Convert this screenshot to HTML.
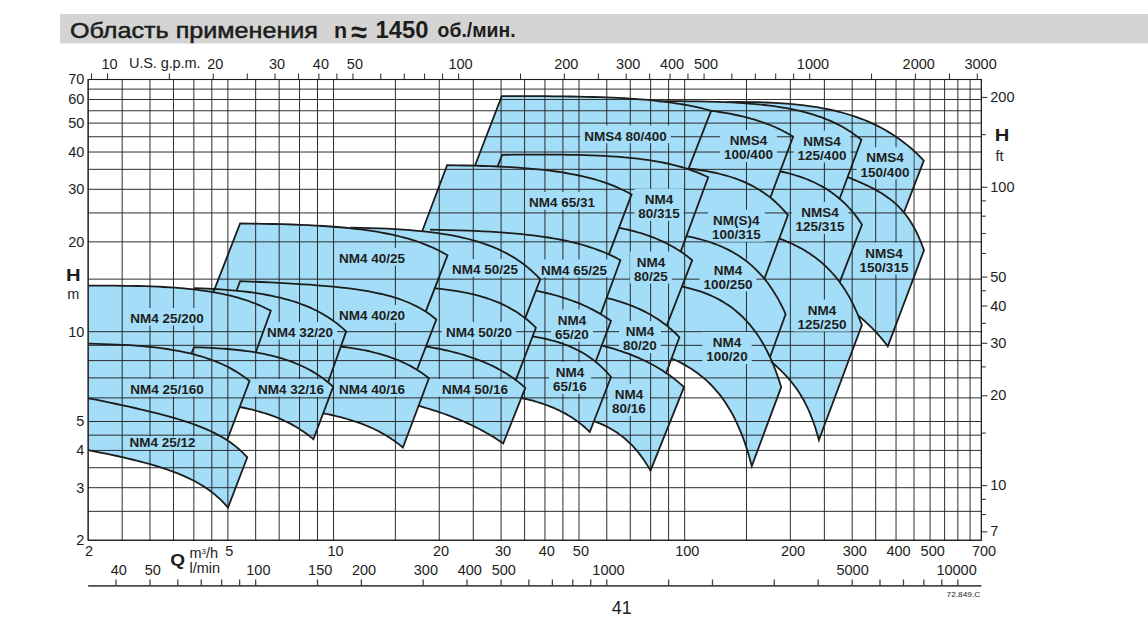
<!DOCTYPE html>
<html lang="ru"><head><meta charset="utf-8"><title>Область применения</title>
<style>
html,body{margin:0;padding:0;background:#fff}
body{width:1148px;height:640px;overflow:hidden;position:relative;font-family:"Liberation Sans",sans-serif}
svg{position:absolute;left:0;top:0;display:block}
text{font-family:"Liberation Sans",sans-serif;fill:#1d1d1b}
.ax{font-size:14.5px}
.lb{font-size:13.5px;font-weight:bold;text-anchor:middle}
.g line{stroke:#222;stroke-width:.95}
.t line{stroke:#2a2a2a;stroke-width:1}
.f path{fill:#a3ddf8;stroke:#a3ddf8;stroke-width:1}
.r path{fill:none;stroke:#1d1d1b;stroke-width:1.8;stroke-linejoin:miter;stroke-miterlimit:10}
.m rect{fill:#a3ddf8}
</style></head><body>
<svg width="1148" height="640" viewBox="0 0 1148 640">
<rect x="0" y="0" width="1148" height="640" fill="#fff"/>
<rect x="60" y="14" width="1088" height="29.5" fill="#d4d4d4"/>
<text x="70" y="37.6" textLength="248" lengthAdjust="spacingAndGlyphs" style="font-size:21.4px;stroke:#1d1d1b;stroke-width:.5">Область применения</text>
<text x="334" y="37.5" style="font-size:21.5px;font-weight:bold">n</text>
<text x="351.3" y="41.6" style="font-size:29px;font-weight:bold">≈</text>
<text x="375.4" y="37.8" textLength="53" lengthAdjust="spacingAndGlyphs" style="font-size:23.2px;font-weight:bold">1450</text>
<text x="437.6" y="37.4" textLength="78" lengthAdjust="spacingAndGlyphs" style="font-size:19.3px;font-weight:bold">об./мин.</text>
<defs><clipPath id="c"><rect x="88.15" y="79.50" width="893.22" height="460.75"/></clipPath></defs>
<g class="f" clip-path="url(#c)">
<path d="M727.0 102.1 L737.8 102.0 L747.8 102.1 L757.3 102.2 L766.2 102.5 L774.6 102.9 L782.5 103.4 L790.1 103.9 L797.3 104.6 L804.2 105.4 L810.8 106.3 L817.1 107.2 L823.1 108.3 L829.0 109.4 L834.6 110.7 L840.0 112.0 L845.2 113.5 L850.3 115.0 L855.2 116.6 L859.9 118.3 L864.5 120.0 L869.0 121.9 L873.3 123.9 L877.5 125.9 L881.6 128.0 L885.6 130.3 L889.5 132.6 L893.3 135.0 L897.0 137.5 L900.6 140.0 L904.2 142.7 L907.6 145.4 L911.0 148.3 L914.3 151.2 L917.5 154.2 L920.7 157.4 L923.8 160.6 L897.0 230.6 L893.9 227.4 L890.7 224.2 L887.5 221.2 L884.2 218.3 L880.8 215.4 L877.3 212.7 L873.8 210.0 L870.2 207.5 L866.5 205.0 L862.7 202.6 L858.8 200.3 L854.8 198.0 L850.7 195.9 L846.4 193.9 L842.1 191.9 L837.6 190.0 L833.0 188.3 L828.3 186.6 L823.4 185.0 L818.3 183.5 L813.1 182.0 L807.7 180.7 L802.1 179.4 L796.2 178.3 L790.2 177.2 L783.8 176.3 L777.3 175.4 L770.4 174.6 L763.2 173.9 L755.6 173.4 L747.6 172.9 L739.2 172.5 L730.3 172.2 L720.9 172.1 L710.8 172.0 L700.0 172.1Z"/>
<path d="M658.0 101.3 L669.4 101.2 L680.0 101.2 L689.9 101.3 L699.3 101.4 L708.0 101.6 L716.3 101.8 L724.2 102.1 L731.7 102.4 L738.8 102.8 L745.6 103.3 L752.2 103.8 L758.4 104.4 L764.4 105.0 L770.2 105.7 L775.8 106.4 L781.2 107.3 L786.3 108.1 L791.4 109.1 L796.2 110.1 L800.9 111.2 L805.5 112.4 L809.9 113.6 L814.2 114.9 L818.4 116.3 L822.5 117.7 L826.5 119.3 L830.4 120.9 L834.1 122.6 L837.8 124.4 L841.4 126.3 L844.9 128.3 L848.4 130.4 L851.7 132.6 L855.0 134.9 L858.2 137.3 L861.4 139.8 L835.5 209.8 L832.3 207.3 L829.1 204.9 L825.7 202.6 L822.4 200.4 L818.9 198.3 L815.3 196.3 L811.7 194.4 L808.0 192.6 L804.2 190.9 L800.3 189.3 L796.3 187.7 L792.2 186.3 L788.0 184.9 L783.6 183.6 L779.2 182.4 L774.6 181.2 L769.8 180.1 L764.9 179.1 L759.9 178.1 L754.7 177.3 L749.3 176.4 L743.7 175.7 L737.9 175.0 L731.8 174.4 L725.5 173.8 L719.0 173.3 L712.1 172.8 L705.0 172.4 L697.5 172.1 L689.6 171.8 L681.2 171.6 L672.4 171.4 L663.1 171.3 L653.1 171.2 L642.5 171.2 L631.0 171.3Z"/>
<path d="M711.1 110.8 L714.1 111.2 L717.0 111.6 L719.9 112.0 L722.7 112.5 L725.5 112.9 L728.2 113.4 L730.9 113.9 L733.5 114.5 L736.1 115.0 L738.6 115.5 L741.1 116.1 L743.6 116.7 L746.0 117.3 L748.4 117.9 L750.7 118.6 L753.0 119.2 L755.3 119.9 L757.5 120.6 L759.8 121.3 L761.9 122.0 L764.1 122.8 L766.2 123.6 L768.3 124.3 L770.3 125.2 L772.4 126.0 L774.4 126.8 L776.4 127.7 L778.3 128.6 L780.2 129.5 L782.1 130.5 L784.0 131.5 L785.9 132.4 L787.7 133.5 L789.5 134.5 L791.3 135.6 L793.1 136.7 L766.9 206.7 L765.1 205.6 L763.3 204.5 L761.5 203.5 L759.6 202.4 L757.7 201.5 L755.8 200.5 L753.9 199.5 L752.0 198.6 L750.0 197.7 L748.0 196.8 L746.0 196.0 L743.9 195.2 L741.8 194.3 L739.7 193.6 L737.6 192.8 L735.4 192.0 L733.2 191.3 L731.0 190.6 L728.7 189.9 L726.4 189.2 L724.1 188.6 L721.7 187.9 L719.3 187.3 L716.9 186.7 L714.4 186.1 L711.9 185.5 L709.3 185.0 L706.7 184.5 L704.1 183.9 L701.4 183.4 L698.6 182.9 L695.8 182.5 L693.0 182.0 L690.1 181.6 L687.2 181.2 L684.1 180.8Z"/>
<path d="M501.8 96.2 L513.8 96.2 L524.9 96.2 L535.3 96.2 L545.0 96.2 L554.1 96.3 L562.7 96.4 L570.9 96.5 L578.6 96.6 L585.9 96.8 L593.0 97.0 L599.7 97.2 L606.1 97.4 L612.3 97.6 L618.2 97.9 L623.9 98.2 L629.4 98.6 L634.7 98.9 L639.9 99.3 L644.8 99.7 L649.6 100.1 L654.3 100.6 L658.8 101.1 L663.2 101.6 L667.5 102.1 L671.6 102.7 L675.7 103.3 L679.6 103.9 L683.4 104.5 L687.2 105.2 L690.8 105.9 L694.4 106.6 L697.9 107.4 L701.3 108.2 L704.6 109.0 L707.9 109.9 L711.1 110.8 L680.0 190.8 L676.8 189.9 L673.5 189.0 L670.2 188.2 L666.8 187.4 L663.3 186.6 L659.7 185.9 L656.1 185.2 L652.3 184.5 L648.5 183.9 L644.6 183.3 L640.5 182.7 L636.4 182.1 L632.1 181.6 L627.7 181.1 L623.2 180.6 L618.5 180.1 L613.7 179.7 L608.8 179.3 L603.7 178.9 L598.4 178.6 L592.9 178.2 L587.1 177.9 L581.2 177.6 L575.1 177.4 L568.6 177.2 L561.9 177.0 L554.9 176.8 L547.5 176.6 L539.8 176.5 L531.7 176.4 L523.1 176.3 L513.9 176.2 L504.2 176.2 L493.9 176.2 L482.8 176.2 L470.8 176.2Z"/>
<path d="M847.6 177.2 L850.3 178.2 L853.0 179.3 L855.6 180.4 L858.2 181.5 L860.8 182.6 L863.3 183.7 L865.7 184.9 L868.2 186.0 L870.6 187.2 L872.9 188.4 L875.2 189.6 L877.5 190.9 L879.8 192.2 L882.0 193.5 L884.2 194.9 L886.3 196.4 L888.4 197.9 L890.5 199.5 L892.6 201.1 L894.6 202.9 L896.6 204.7 L898.6 206.7 L900.6 208.7 L902.5 210.8 L904.4 213.1 L906.3 215.5 L908.2 218.1 L910.0 220.8 L911.8 223.7 L913.6 226.8 L915.4 230.1 L917.2 233.6 L918.9 237.3 L920.6 241.3 L922.3 245.7 L924.0 250.3 L887.8 346.4 L887.8 346.4 L886.1 344.1 L884.3 341.8 L882.5 339.6 L880.7 337.4 L878.9 335.3 L877.0 333.3 L875.1 331.2 L873.2 329.3 L871.3 327.3 L869.4 325.4 L867.4 323.5 L865.4 321.7 L863.4 319.9 L861.3 318.1 L859.2 316.4 L857.1 314.7 L855.0 313.0 L852.8 311.4 L850.6 309.7 L848.4 308.1 L846.1 306.6 L843.8 305.0 L841.5 303.5 L839.1 302.0 L836.7 300.6 L834.2 299.1 L831.8 297.7 L829.2 296.3 L826.7 295.0 L824.0 293.6 L821.4 292.3 L818.7 291.0 L815.9 289.7 L813.1 288.4 L810.2 287.1 L807.3 285.9Z"/>
<path d="M780.1 171.3 L783.1 172.0 L786.0 172.7 L788.9 173.4 L791.7 174.2 L794.5 175.0 L797.2 175.8 L799.9 176.7 L802.5 177.6 L805.1 178.5 L807.6 179.5 L810.1 180.6 L812.6 181.7 L815.0 182.8 L817.3 184.0 L819.7 185.2 L822.0 186.4 L824.3 187.7 L826.5 189.1 L828.7 190.5 L830.9 192.0 L833.0 193.5 L835.1 195.1 L837.2 196.8 L839.3 198.5 L841.3 200.2 L843.3 202.0 L845.3 203.9 L847.2 205.9 L849.2 208.0 L851.1 210.1 L852.9 212.3 L854.8 214.5 L856.6 216.9 L858.4 219.4 L860.2 221.9 L862.0 224.6 L830.9 304.6 L829.2 301.9 L827.4 299.4 L825.6 296.9 L823.8 294.5 L822.0 292.3 L820.2 290.1 L818.3 288.0 L816.4 285.9 L814.5 283.9 L812.5 282.0 L810.6 280.2 L808.6 278.5 L806.5 276.8 L804.5 275.1 L802.4 273.5 L800.3 272.0 L798.2 270.5 L796.0 269.1 L793.8 267.7 L791.6 266.4 L789.3 265.2 L787.0 264.0 L784.6 262.8 L782.2 261.7 L779.8 260.6 L777.4 259.5 L774.9 258.5 L772.3 257.6 L769.7 256.7 L767.1 255.8 L764.4 255.0 L761.7 254.2 L758.9 253.4 L756.1 252.7 L753.2 252.0 L750.2 251.3Z"/>
<path d="M688.6 168.6 L692.4 169.0 L696.2 169.5 L699.8 170.0 L703.4 170.6 L706.9 171.2 L710.3 171.8 L713.6 172.5 L716.9 173.2 L720.1 174.0 L723.2 174.8 L726.3 175.6 L729.3 176.5 L732.3 177.5 L735.1 178.4 L738.0 179.5 L740.8 180.6 L743.5 181.7 L746.2 182.9 L748.8 184.1 L751.4 185.4 L754.0 186.8 L756.5 188.2 L759.0 189.6 L761.4 191.2 L763.8 192.8 L766.1 194.4 L768.5 196.1 L770.8 197.9 L773.0 199.8 L775.2 201.7 L777.4 203.8 L779.6 205.9 L781.7 208.1 L783.8 210.3 L785.9 212.7 L787.9 215.2 L758.3 295.2 L756.3 292.7 L754.1 290.3 L752.0 288.1 L749.8 285.9 L747.6 283.8 L745.4 281.7 L743.1 279.8 L740.9 277.9 L738.5 276.1 L736.2 274.4 L733.8 272.8 L731.3 271.2 L728.8 269.6 L726.3 268.2 L723.8 266.8 L721.2 265.4 L718.5 264.1 L715.9 262.9 L713.1 261.7 L710.3 260.6 L707.5 259.5 L704.6 258.4 L701.7 257.5 L698.7 256.5 L695.7 255.6 L692.5 254.8 L689.4 254.0 L686.1 253.2 L682.8 252.5 L679.4 251.8 L676.0 251.2 L672.5 250.6 L668.8 250.0 L665.2 249.5 L661.4 249.0 L657.5 248.6Z"/>
<path d="M502.2 154.9 L513.9 154.7 L524.7 154.6 L534.8 154.6 L544.3 154.6 L553.2 154.6 L561.7 154.7 L569.6 154.8 L577.2 154.9 L584.5 155.1 L591.4 155.3 L598.0 155.6 L604.3 155.9 L610.4 156.3 L616.3 156.7 L621.9 157.1 L627.3 157.6 L632.6 158.1 L637.6 158.7 L642.5 159.3 L647.3 159.9 L651.9 160.6 L656.4 161.4 L660.7 162.2 L664.9 163.0 L669.1 163.9 L673.1 164.8 L677.0 165.8 L680.8 166.9 L684.5 167.9 L688.1 169.1 L691.6 170.3 L695.1 171.6 L698.5 172.9 L701.8 174.3 L705.0 175.7 L708.2 177.2 L678.6 257.2 L675.3 255.7 L672.0 254.3 L668.6 252.9 L665.2 251.6 L661.6 250.3 L658.0 249.1 L654.3 247.9 L650.5 246.9 L646.7 245.8 L642.7 244.8 L638.6 243.9 L634.4 243.0 L630.1 242.2 L625.7 241.4 L621.2 240.6 L616.5 239.9 L611.7 239.3 L606.7 238.7 L601.5 238.1 L596.2 237.6 L590.7 237.1 L585.0 236.7 L579.1 236.3 L572.9 235.9 L566.5 235.6 L559.9 235.3 L552.9 235.1 L545.6 234.9 L537.9 234.8 L529.8 234.7 L521.3 234.6 L512.3 234.6 L502.8 234.6 L492.6 234.6 L481.7 234.7 L470.0 234.9Z"/>
<path d="M447.1 165.2 L456.8 165.4 L465.8 165.5 L474.4 165.7 L482.5 166.0 L490.2 166.2 L497.6 166.5 L504.6 166.9 L511.2 167.2 L517.7 167.6 L523.8 168.1 L529.7 168.6 L535.4 169.1 L540.9 169.6 L546.2 170.2 L551.3 170.9 L556.3 171.5 L561.1 172.2 L565.7 173.0 L570.2 173.8 L574.6 174.6 L578.9 175.5 L583.0 176.4 L587.0 177.4 L591.0 178.4 L594.8 179.4 L598.5 180.5 L602.2 181.7 L605.7 182.9 L609.2 184.1 L612.6 185.4 L616.0 186.8 L619.2 188.2 L622.4 189.7 L625.5 191.2 L628.6 192.8 L631.6 194.4 L601.3 274.4 L598.3 272.8 L595.2 271.2 L592.1 269.7 L588.9 268.2 L585.7 266.8 L582.3 265.4 L578.9 264.1 L575.5 262.9 L571.9 261.7 L568.3 260.5 L564.5 259.4 L560.7 258.4 L556.8 257.4 L552.7 256.4 L548.6 255.5 L544.3 254.6 L539.9 253.8 L535.4 253.0 L530.8 252.2 L526.0 251.5 L521.0 250.9 L515.9 250.2 L510.6 249.6 L505.1 249.1 L499.5 248.6 L493.5 248.1 L487.4 247.6 L481.0 247.2 L474.3 246.9 L467.3 246.5 L460.0 246.2 L452.3 246.0 L444.2 245.7 L435.6 245.5 L426.5 245.4 L416.9 245.2Z"/>
<path d="M779.3 238.6 L782.3 239.7 L785.2 240.9 L788.1 242.1 L791.0 243.3 L793.8 244.6 L796.5 246.0 L799.2 247.4 L801.9 248.8 L804.5 250.3 L807.0 251.9 L809.6 253.5 L812.0 255.2 L814.5 256.9 L816.9 258.7 L819.2 260.6 L821.6 262.5 L823.9 264.6 L826.1 266.7 L828.3 268.8 L830.5 271.1 L832.7 273.5 L834.8 275.9 L836.9 278.5 L839.0 281.2 L841.0 284.0 L843.1 286.9 L845.1 289.9 L847.0 293.1 L849.0 296.4 L850.9 299.9 L852.8 303.6 L854.6 307.5 L856.5 311.5 L858.3 315.8 L860.1 320.3 L861.9 325.1 L818.9 440.1 L818.9 440.1 L817.3 434.0 L815.6 428.5 L813.8 423.3 L812.1 418.6 L810.3 414.1 L808.5 410.0 L806.7 406.1 L804.9 402.5 L803.1 399.1 L801.2 395.9 L799.3 392.8 L797.4 389.9 L795.4 387.1 L793.5 384.5 L791.5 382.0 L789.4 379.6 L787.4 377.2 L785.3 375.0 L783.2 372.8 L781.1 370.7 L778.9 368.6 L776.7 366.5 L774.5 364.5 L772.2 362.6 L769.9 360.6 L767.6 358.7 L765.2 356.8 L762.8 354.8 L760.4 352.9 L757.9 351.0 L755.4 349.1 L752.8 347.1 L750.2 345.1 L747.6 343.1 L744.9 341.1 L742.1 339.1Z"/>
<path d="M686.4 236.2 L690.2 236.9 L693.9 237.7 L697.6 238.6 L701.2 239.5 L704.6 240.5 L708.1 241.5 L711.4 242.7 L714.6 243.8 L717.8 245.0 L721.0 246.3 L724.0 247.7 L727.0 249.1 L730.0 250.6 L732.9 252.2 L735.7 253.9 L738.5 255.6 L741.2 257.4 L743.9 259.3 L746.6 261.3 L749.2 263.4 L751.7 265.6 L754.2 267.9 L756.7 270.3 L759.1 272.8 L761.5 275.4 L763.9 278.1 L766.2 281.0 L768.5 284.0 L770.7 287.2 L772.9 290.5 L775.1 293.9 L777.3 297.6 L779.4 301.4 L781.5 305.5 L783.6 309.7 L785.6 314.2 L763.9 374.2 L761.9 369.7 L759.8 365.5 L757.7 361.4 L755.5 357.6 L753.4 353.9 L751.2 350.5 L748.9 347.2 L746.7 344.0 L744.4 341.0 L742.0 338.1 L739.6 335.4 L737.2 332.8 L734.8 330.3 L732.3 327.9 L729.8 325.6 L727.2 323.4 L724.6 321.3 L722.0 319.3 L719.3 317.4 L716.5 315.6 L713.7 313.9 L710.9 312.2 L707.9 310.6 L705.0 309.1 L702.0 307.7 L698.9 306.3 L695.7 305.0 L692.5 303.8 L689.3 302.7 L685.9 301.5 L682.5 300.5 L679.0 299.5 L675.4 298.6 L671.7 297.7 L668.0 296.9 L664.1 296.2Z"/>
<path d="M619.0 227.8 L621.6 228.3 L624.1 228.9 L626.6 229.4 L629.1 230.0 L631.5 230.6 L633.9 231.2 L636.2 231.9 L638.5 232.5 L640.8 233.2 L643.1 233.9 L645.3 234.6 L647.5 235.4 L649.6 236.1 L651.7 236.9 L653.8 237.7 L655.9 238.5 L657.9 239.4 L659.9 240.3 L661.9 241.1 L663.9 242.1 L665.8 243.0 L667.7 244.0 L669.6 245.0 L671.5 246.0 L673.3 247.0 L675.1 248.1 L676.9 249.2 L678.7 250.3 L680.5 251.4 L682.2 252.6 L683.9 253.8 L685.6 255.1 L687.3 256.3 L688.9 257.6 L690.6 259.0 L692.2 260.3 L655.1 355.3 L653.5 354.0 L651.9 352.6 L650.3 351.3 L648.6 350.1 L646.9 348.8 L645.3 347.6 L643.6 346.4 L641.8 345.3 L640.1 344.2 L638.3 343.1 L636.5 342.0 L634.7 341.0 L632.9 340.0 L631.0 339.0 L629.2 338.0 L627.3 337.1 L625.3 336.1 L623.4 335.3 L621.4 334.4 L619.4 333.5 L617.4 332.7 L615.3 331.9 L613.2 331.1 L611.1 330.4 L609.0 329.6 L606.8 328.9 L604.6 328.2 L602.3 327.5 L600.0 326.9 L597.7 326.2 L595.4 325.6 L593.0 325.0 L590.5 324.4 L588.1 323.9 L585.5 323.3 L583.0 322.8Z"/>
<path d="M430.0 229.7 L440.2 229.8 L449.7 230.1 L458.7 230.3 L467.2 230.6 L475.2 230.9 L482.9 231.3 L490.1 231.7 L497.1 232.1 L503.7 232.6 L510.1 233.1 L516.2 233.6 L522.0 234.2 L527.7 234.8 L533.1 235.4 L538.4 236.1 L543.5 236.8 L548.4 237.5 L553.2 238.3 L557.8 239.1 L562.3 240.0 L566.6 240.9 L570.9 241.9 L575.0 242.9 L579.0 243.9 L582.9 245.0 L586.7 246.1 L590.5 247.3 L594.1 248.5 L597.6 249.8 L601.1 251.1 L604.5 252.5 L607.8 253.9 L611.1 255.4 L614.2 256.9 L617.3 258.5 L620.4 260.2 L598.4 320.2 L595.4 318.5 L592.2 316.9 L589.0 315.4 L585.7 313.9 L582.4 312.5 L579.0 311.1 L575.5 309.8 L571.9 308.5 L568.2 307.3 L564.5 306.1 L560.6 305.0 L556.7 303.9 L552.6 302.9 L548.5 301.9 L544.2 300.9 L539.8 300.0 L535.3 299.1 L530.6 298.3 L525.8 297.5 L520.9 296.8 L515.8 296.1 L510.5 295.4 L505.0 294.8 L499.3 294.2 L493.4 293.6 L487.3 293.1 L480.9 292.6 L474.2 292.1 L467.2 291.7 L459.9 291.3 L452.3 290.9 L444.2 290.6 L435.7 290.3 L426.7 290.1 L417.1 289.8 L406.9 289.7Z"/>
<path d="M350.3 227.6 L360.4 227.8 L370.0 228.1 L378.9 228.4 L387.4 228.7 L395.4 229.1 L403.0 229.6 L410.2 230.2 L417.2 230.8 L423.8 231.4 L430.1 232.1 L436.2 232.9 L442.1 233.8 L447.7 234.7 L453.2 235.7 L458.4 236.7 L463.5 237.8 L468.4 239.0 L473.2 240.3 L477.8 241.7 L482.3 243.1 L486.6 244.6 L490.8 246.2 L495.0 247.8 L499.0 249.6 L502.9 251.5 L506.7 253.4 L510.4 255.5 L514.0 257.6 L517.6 259.9 L521.0 262.3 L524.4 264.8 L527.7 267.4 L531.0 270.2 L534.1 273.1 L537.3 276.1 L540.3 279.3 L516.9 339.3 L513.9 336.1 L510.8 333.1 L507.6 330.2 L504.4 327.4 L501.1 324.8 L497.7 322.3 L494.2 319.9 L490.7 317.6 L487.1 315.5 L483.4 313.4 L479.6 311.5 L475.7 309.6 L471.7 307.8 L467.6 306.2 L463.3 304.6 L459.0 303.1 L454.5 301.7 L449.9 300.3 L445.2 299.0 L440.2 297.8 L435.2 296.7 L429.9 295.7 L424.5 294.7 L418.9 293.8 L413.0 292.9 L406.9 292.1 L400.6 291.4 L394.0 290.8 L387.1 290.2 L379.8 289.6 L372.2 289.1 L364.2 288.7 L355.8 288.4 L346.8 288.1 L337.3 287.8 L327.2 287.6Z"/>
<path d="M240.1 223.5 L251.9 223.7 L262.9 223.8 L273.1 224.0 L282.6 224.2 L291.7 224.5 L300.2 224.8 L308.2 225.2 L315.9 225.6 L323.2 226.0 L330.1 226.5 L336.8 227.0 L343.1 227.5 L349.3 228.1 L355.1 228.8 L360.8 229.4 L366.3 230.2 L371.5 230.9 L376.6 231.7 L381.6 232.6 L386.3 233.5 L391.0 234.4 L395.5 235.4 L399.8 236.5 L404.1 237.6 L408.2 238.7 L412.2 239.9 L416.1 241.2 L420.0 242.5 L423.7 243.9 L427.3 245.3 L430.9 246.8 L434.4 248.4 L437.7 250.0 L441.1 251.7 L444.3 253.5 L447.5 255.3 L418.5 330.3 L415.3 328.5 L412.0 326.7 L408.7 325.0 L405.3 323.4 L401.8 321.8 L398.3 320.3 L394.6 318.9 L390.9 317.5 L387.1 316.2 L383.2 314.9 L379.1 313.7 L375.0 312.6 L370.8 311.5 L366.4 310.4 L361.9 309.4 L357.3 308.5 L352.5 307.6 L347.6 306.7 L342.5 305.9 L337.2 305.2 L331.7 304.4 L326.1 303.8 L320.2 303.1 L314.1 302.5 L307.7 302.0 L301.0 301.5 L294.1 301.0 L286.8 300.6 L279.1 300.2 L271.1 299.8 L262.6 299.5 L253.5 299.2 L244.0 299.0 L233.7 298.8 L222.8 298.7 L211.0 298.5Z"/>
<path d="M682.0 286.5 L685.8 287.4 L689.5 288.3 L693.2 289.3 L696.8 290.3 L700.3 291.4 L703.7 292.6 L707.0 293.9 L710.3 295.3 L713.4 296.7 L716.6 298.3 L719.6 299.9 L722.6 301.6 L725.6 303.4 L728.5 305.3 L731.3 307.3 L734.1 309.4 L736.8 311.7 L739.5 314.0 L742.2 316.5 L744.8 319.1 L747.3 321.8 L749.8 324.7 L752.3 327.7 L754.7 330.9 L757.1 334.2 L759.5 337.8 L761.8 341.5 L764.1 345.5 L766.3 349.6 L768.5 354.0 L770.7 358.7 L772.9 363.7 L775.0 369.0 L777.1 374.6 L779.2 380.7 L781.2 387.1 L751.8 466.0 L751.8 466.0 L749.8 458.6 L747.8 451.8 L745.7 445.4 L743.7 439.5 L741.6 434.0 L739.4 428.8 L737.3 424.0 L735.1 419.4 L732.9 415.1 L730.6 411.0 L728.4 407.2 L726.0 403.5 L723.7 400.1 L721.3 396.8 L718.9 393.7 L716.4 390.7 L713.9 387.8 L711.3 385.2 L708.7 382.6 L706.1 380.1 L703.4 377.8 L700.7 375.5 L697.9 373.4 L695.1 371.4 L692.2 369.4 L689.2 367.5 L686.2 365.7 L683.2 364.0 L680.0 362.4 L676.8 360.8 L673.6 359.3 L670.3 357.8 L666.8 356.4 L663.4 355.1 L659.8 353.8 L656.1 352.6Z"/>
<path d="M606.6 297.9 L609.2 298.6 L611.7 299.2 L614.2 299.9 L616.6 300.6 L619.0 301.4 L621.4 302.1 L623.7 302.9 L626.0 303.7 L628.3 304.5 L630.5 305.3 L632.7 306.2 L634.9 307.1 L637.0 308.0 L639.1 308.9 L641.2 309.9 L643.3 310.9 L645.3 311.9 L647.3 313.0 L649.3 314.0 L651.2 315.1 L653.1 316.3 L655.0 317.4 L656.9 318.6 L658.8 319.8 L660.6 321.1 L662.4 322.4 L664.2 323.7 L666.0 325.0 L667.7 326.4 L669.4 327.9 L671.1 329.3 L672.8 330.8 L674.5 332.4 L676.1 334.0 L677.8 335.6 L679.4 337.3 L657.3 397.3 L655.7 395.6 L654.1 394.0 L652.4 392.4 L650.7 390.8 L649.1 389.3 L647.4 387.9 L645.6 386.4 L643.9 385.0 L642.1 383.7 L640.3 382.4 L638.5 381.1 L636.7 379.8 L634.9 378.6 L633.0 377.4 L631.1 376.3 L629.2 375.1 L627.2 374.0 L625.3 373.0 L623.3 371.9 L621.3 370.9 L619.2 369.9 L617.1 368.9 L615.0 368.0 L612.9 367.1 L610.7 366.2 L608.5 365.3 L606.3 364.5 L604.0 363.7 L601.7 362.9 L599.4 362.1 L597.0 361.4 L594.6 360.6 L592.2 359.9 L589.7 359.2 L587.2 358.6 L584.6 357.9Z"/>
<path d="M535.9 290.7 L538.5 291.2 L541.2 291.8 L543.8 292.4 L546.3 293.0 L548.8 293.6 L551.3 294.2 L553.7 294.9 L556.1 295.5 L558.4 296.2 L560.7 296.9 L563.0 297.6 L565.2 298.3 L567.4 299.0 L569.6 299.8 L571.8 300.5 L573.9 301.3 L576.0 302.1 L578.0 302.9 L580.0 303.7 L582.1 304.6 L584.0 305.5 L586.0 306.3 L587.9 307.2 L589.8 308.2 L591.7 309.1 L593.6 310.1 L595.4 311.1 L597.2 312.1 L599.0 313.1 L600.8 314.1 L602.5 315.2 L604.3 316.3 L606.0 317.4 L607.7 318.6 L609.3 319.7 L611.0 320.9 L585.3 388.9 L583.6 387.7 L581.9 386.6 L580.2 385.4 L578.5 384.3 L576.7 383.2 L574.9 382.1 L573.1 381.1 L571.3 380.1 L569.5 379.1 L567.6 378.1 L565.7 377.1 L563.8 376.2 L561.9 375.2 L560.0 374.3 L558.0 373.5 L556.0 372.6 L554.0 371.7 L551.9 370.9 L549.8 370.1 L547.7 369.3 L545.6 368.5 L543.4 367.8 L541.2 367.0 L539.0 366.3 L536.7 365.6 L534.4 364.9 L532.1 364.2 L529.7 363.5 L527.3 362.9 L524.9 362.2 L522.4 361.6 L519.9 361.0 L517.3 360.4 L514.7 359.8 L512.0 359.2 L509.4 358.7Z"/>
<path d="M434.7 288.4 L438.6 288.7 L442.5 289.1 L446.2 289.6 L449.9 290.1 L453.4 290.6 L456.9 291.1 L460.3 291.7 L463.7 292.3 L466.9 292.9 L470.1 293.6 L473.3 294.4 L476.3 295.1 L479.3 295.9 L482.3 296.8 L485.2 297.7 L488.0 298.6 L490.8 299.5 L493.5 300.6 L496.2 301.6 L498.9 302.7 L501.5 303.9 L504.0 305.1 L506.5 306.3 L509.0 307.6 L511.4 309.0 L513.8 310.4 L516.2 311.8 L518.5 313.3 L520.8 314.9 L523.0 316.6 L525.3 318.2 L527.5 320.0 L529.6 321.8 L531.7 323.7 L533.8 325.7 L535.9 327.7 L509.1 397.7 L507.0 395.7 L504.9 393.7 L502.8 391.8 L500.6 390.0 L498.4 388.2 L496.2 386.6 L493.9 384.9 L491.6 383.3 L489.3 381.8 L486.9 380.4 L484.5 379.0 L482.1 377.6 L479.6 376.3 L477.1 375.1 L474.5 373.9 L471.9 372.7 L469.3 371.6 L466.6 370.6 L463.8 369.5 L461.0 368.6 L458.2 367.7 L455.3 366.8 L452.3 365.9 L449.3 365.1 L446.2 364.4 L443.1 363.6 L439.9 362.9 L436.6 362.3 L433.3 361.7 L429.9 361.1 L426.4 360.6 L422.8 360.1 L419.1 359.6 L415.4 359.1 L411.5 358.7 L407.6 358.4Z"/>
<path d="M240.1 281.1 L250.8 281.6 L260.8 282.0 L270.2 282.4 L279.1 282.9 L287.4 283.3 L295.4 283.8 L302.9 284.3 L310.1 284.7 L316.9 285.3 L323.5 285.8 L329.8 286.4 L335.8 286.9 L341.7 287.6 L347.3 288.2 L352.7 288.9 L357.9 289.6 L362.9 290.4 L367.8 291.2 L372.5 292.1 L377.1 293.1 L381.6 294.0 L385.9 295.1 L390.1 296.2 L394.2 297.4 L398.2 298.7 L402.1 300.0 L405.9 301.5 L409.6 303.0 L413.2 304.7 L416.7 306.4 L420.1 308.2 L423.5 310.2 L426.8 312.3 L430.0 314.6 L433.2 317.0 L436.3 319.5 L413.3 379.5 L410.2 377.0 L407.1 374.6 L403.9 372.3 L400.6 370.2 L397.2 368.2 L393.8 366.4 L390.2 364.7 L386.6 363.0 L382.9 361.5 L379.2 360.0 L375.3 358.7 L371.3 357.4 L367.2 356.2 L363.0 355.1 L358.7 354.0 L354.3 353.1 L349.7 352.1 L345.0 351.2 L340.1 350.4 L335.0 349.6 L329.8 348.9 L324.4 348.2 L318.8 347.6 L313.0 346.9 L307.0 346.4 L300.7 345.8 L294.2 345.3 L287.3 344.7 L280.1 344.3 L272.6 343.8 L264.7 343.3 L256.3 342.9 L247.5 342.4 L238.1 342.0 L228.1 341.6 L217.4 341.1Z"/>
<path d="M194.0 288.1 L201.1 288.3 L207.9 288.6 L214.3 289.0 L220.6 289.4 L226.5 289.8 L232.3 290.3 L237.8 290.8 L243.2 291.4 L248.4 292.0 L253.4 292.7 L258.2 293.4 L262.9 294.1 L267.4 295.0 L271.9 295.8 L276.1 296.8 L280.3 297.7 L284.4 298.8 L288.4 299.9 L292.2 301.0 L296.0 302.2 L299.6 303.5 L303.2 304.8 L306.7 306.2 L310.2 307.7 L313.5 309.2 L316.8 310.8 L320.0 312.5 L323.1 314.3 L326.2 316.1 L329.2 318.0 L332.2 320.0 L335.1 322.1 L338.0 324.3 L340.8 326.6 L343.5 328.9 L346.2 331.4 L324.9 391.4 L322.2 388.9 L319.4 386.6 L316.5 384.3 L313.6 382.1 L310.7 380.0 L307.7 378.0 L304.6 376.1 L301.5 374.3 L298.3 372.5 L295.0 370.8 L291.7 369.2 L288.3 367.7 L284.8 366.2 L281.2 364.8 L277.6 363.5 L273.9 362.2 L270.1 361.0 L266.2 359.9 L262.1 358.8 L258.0 357.7 L253.8 356.8 L249.5 355.8 L245.0 355.0 L240.4 354.1 L235.6 353.4 L230.8 352.7 L225.7 352.0 L220.5 351.4 L215.1 350.8 L209.5 350.3 L203.7 349.8 L197.7 349.4 L191.4 349.0 L184.9 348.6 L178.0 348.3 L170.9 348.1Z"/>
<path d="M88.2 285.7 L97.6 285.7 L106.6 285.7 L115.0 285.7 L123.0 285.8 L130.6 285.9 L137.9 286.0 L144.8 286.2 L151.4 286.4 L157.7 286.7 L163.8 287.0 L169.7 287.4 L175.3 287.7 L180.7 288.2 L186.0 288.6 L191.1 289.2 L196.0 289.7 L200.7 290.3 L205.3 290.9 L209.8 291.6 L214.2 292.4 L218.4 293.1 L222.5 293.9 L226.5 294.8 L230.4 295.7 L234.2 296.7 L237.9 297.7 L241.6 298.8 L245.1 299.9 L248.6 301.0 L251.9 302.3 L255.2 303.5 L258.5 304.9 L261.7 306.3 L264.8 307.7 L267.8 309.3 L270.8 310.8 L243.6 385.8 L240.6 384.3 L237.5 382.7 L234.4 381.3 L231.1 379.9 L227.9 378.5 L224.5 377.3 L221.1 376.0 L217.6 374.9 L214.0 373.8 L210.3 372.7 L206.5 371.7 L202.7 370.7 L198.7 369.8 L194.7 368.9 L190.5 368.1 L186.2 367.4 L181.8 366.6 L177.3 365.9 L172.7 365.3 L167.9 364.7 L162.9 364.2 L157.8 363.6 L152.5 363.2 L147.0 362.7 L141.3 362.4 L135.4 362.0 L129.3 361.7 L122.9 361.4 L116.2 361.2 L109.3 361.0 L102.0 360.9 L94.3 360.8 L83.2 360.7 L83.2 360.7 L83.2 360.7 L83.2 360.7Z"/>
<path d="M601.7 345.5 L604.7 346.3 L607.7 347.1 L610.5 347.9 L613.4 348.7 L616.2 349.6 L618.9 350.5 L621.6 351.4 L624.2 352.3 L626.8 353.2 L629.4 354.2 L631.9 355.2 L634.3 356.2 L636.8 357.2 L639.1 358.2 L641.5 359.3 L643.8 360.3 L646.1 361.4 L648.3 362.5 L650.6 363.7 L652.7 364.8 L654.9 366.0 L657.0 367.3 L659.1 368.5 L661.2 369.8 L663.2 371.0 L665.2 372.4 L667.2 373.7 L669.2 375.1 L671.1 376.5 L673.0 377.9 L674.9 379.4 L676.8 380.9 L678.6 382.4 L680.4 383.9 L682.2 385.5 L684.0 387.2 L650.5 470.7 L650.5 470.7 L648.8 467.8 L647.2 465.0 L645.5 462.3 L643.7 459.7 L642.0 457.3 L640.2 454.9 L638.5 452.6 L636.7 450.4 L634.8 448.3 L633.0 446.3 L631.1 444.4 L629.2 442.6 L627.3 440.8 L625.4 439.1 L623.4 437.4 L621.4 435.9 L619.4 434.4 L617.4 432.9 L615.3 431.5 L613.2 430.2 L611.1 429.0 L608.9 427.8 L606.7 426.6 L604.5 425.5 L602.3 424.5 L600.0 423.5 L597.7 422.5 L595.3 421.6 L592.9 420.8 L590.5 420.0 L588.0 419.2 L585.5 418.5 L582.9 417.8 L580.3 417.2 L577.7 416.6 L575.0 416.1Z"/>
<path d="M532.5 336.5 L535.4 336.9 L538.1 337.4 L540.9 337.9 L543.5 338.4 L546.2 339.0 L548.8 339.6 L551.3 340.3 L553.8 340.9 L556.3 341.6 L558.7 342.4 L561.1 343.2 L563.4 344.0 L565.7 344.8 L568.0 345.7 L570.2 346.6 L572.4 347.6 L574.6 348.6 L576.8 349.7 L578.9 350.8 L581.0 351.9 L583.0 353.1 L585.1 354.3 L587.1 355.6 L589.1 356.9 L591.0 358.3 L592.9 359.7 L594.8 361.1 L596.7 362.7 L598.6 364.3 L600.4 365.9 L602.2 367.6 L604.0 369.3 L605.8 371.2 L607.6 373.1 L609.3 375.0 L611.0 377.0 L589.8 432.0 L589.8 432.0 L588.1 430.3 L586.3 428.7 L584.5 427.1 L582.7 425.6 L580.9 424.1 L579.1 422.7 L577.2 421.3 L575.3 419.9 L573.4 418.6 L571.5 417.3 L569.5 416.1 L567.5 414.9 L565.5 413.8 L563.5 412.6 L561.4 411.5 L559.3 410.5 L557.2 409.5 L555.0 408.5 L552.8 407.6 L550.6 406.6 L548.3 405.8 L546.0 404.9 L543.7 404.1 L541.4 403.3 L539.0 402.5 L536.5 401.8 L534.1 401.1 L531.5 400.4 L529.0 399.7 L526.4 399.1 L523.7 398.5 L521.0 397.9 L518.3 397.4 L515.5 396.9 L512.7 396.4 L509.8 395.9Z"/>
<path d="M425.9 346.5 L429.8 347.2 L433.5 347.8 L437.2 348.5 L440.8 349.2 L444.3 350.0 L447.7 350.7 L451.0 351.5 L454.3 352.3 L457.5 353.2 L460.6 354.0 L463.7 354.9 L466.7 355.8 L469.6 356.8 L472.5 357.8 L475.4 358.8 L478.1 359.8 L480.9 360.9 L483.6 361.9 L486.2 363.1 L488.8 364.2 L491.4 365.4 L493.9 366.6 L496.4 367.9 L498.8 369.2 L501.2 370.5 L503.5 371.9 L505.9 373.3 L508.1 374.7 L510.4 376.2 L512.6 377.8 L514.8 379.3 L517.0 380.9 L519.1 382.6 L521.2 384.3 L523.3 386.1 L525.3 387.9 L503.2 443.5 L503.2 443.5 L501.2 442.1 L499.1 440.7 L497.0 439.3 L494.9 438.0 L492.8 436.6 L490.6 435.3 L488.4 434.0 L486.1 432.7 L483.9 431.5 L481.6 430.2 L479.2 429.0 L476.8 427.7 L474.4 426.5 L472.0 425.3 L469.5 424.2 L466.9 423.0 L464.4 421.8 L461.7 420.7 L459.1 419.6 L456.3 418.5 L453.6 417.4 L450.8 416.3 L447.9 415.2 L445.0 414.1 L442.0 413.1 L438.9 412.0 L435.8 411.0 L432.7 410.0 L429.4 409.0 L426.1 408.0 L422.7 407.0 L419.3 406.0 L415.7 405.1 L412.1 404.1 L408.4 403.2 L404.6 402.2Z"/>
<path d="M340.8 346.6 L344.1 347.0 L347.3 347.4 L350.5 347.8 L353.5 348.3 L356.5 348.8 L359.5 349.3 L362.4 349.9 L365.3 350.4 L368.0 351.0 L370.8 351.7 L373.5 352.3 L376.1 353.0 L378.7 353.7 L381.3 354.4 L383.8 355.1 L386.3 355.9 L388.7 356.7 L391.1 357.6 L393.5 358.4 L395.8 359.3 L398.1 360.2 L400.4 361.2 L402.6 362.2 L404.8 363.2 L407.0 364.2 L409.1 365.3 L411.2 366.4 L413.3 367.6 L415.3 368.8 L417.3 370.0 L419.3 371.3 L421.3 372.6 L423.2 373.9 L425.1 375.3 L427.0 376.7 L428.9 378.2 L402.9 447.5 L402.9 447.5 L401.0 445.9 L399.2 444.5 L397.3 443.0 L395.4 441.6 L393.5 440.3 L391.6 439.0 L389.6 437.7 L387.6 436.4 L385.6 435.2 L383.5 434.0 L381.4 432.8 L379.3 431.7 L377.2 430.6 L375.1 429.5 L372.9 428.5 L370.6 427.5 L368.4 426.5 L366.1 425.5 L363.7 424.6 L361.4 423.7 L359.0 422.8 L356.5 421.9 L354.1 421.1 L351.5 420.3 L349.0 419.5 L346.4 418.7 L343.7 418.0 L341.0 417.3 L338.3 416.6 L335.5 415.9 L332.6 415.2 L329.7 414.6 L326.8 414.0 L323.7 413.4 L320.7 412.8 L317.5 412.3Z"/>
<path d="M194.0 347.3 L200.2 347.4 L206.1 347.7 L211.9 347.9 L217.4 348.3 L222.7 348.6 L227.9 349.0 L232.8 349.5 L237.7 350.0 L242.3 350.5 L246.9 351.1 L251.3 351.7 L255.5 352.4 L259.7 353.2 L263.8 353.9 L267.7 354.8 L271.5 355.7 L275.3 356.6 L279.0 357.6 L282.5 358.7 L286.0 359.8 L289.4 360.9 L292.8 362.2 L296.1 363.5 L299.3 364.8 L302.4 366.2 L305.5 367.7 L308.5 369.3 L311.4 370.9 L314.3 372.6 L317.2 374.4 L320.0 376.2 L322.7 378.1 L325.4 380.2 L328.0 382.3 L330.6 384.5 L333.2 386.8 L313.4 439.3 L313.4 439.3 L310.8 437.2 L308.2 435.1 L305.5 433.1 L302.8 431.2 L300.0 429.4 L297.2 427.6 L294.3 425.9 L291.4 424.3 L288.4 422.7 L285.3 421.2 L282.2 419.8 L279.0 418.4 L275.8 417.1 L272.5 415.8 L269.1 414.6 L265.6 413.5 L262.1 412.4 L258.4 411.3 L254.7 410.3 L250.9 409.4 L247.0 408.5 L243.0 407.6 L238.9 406.8 L234.6 406.1 L230.3 405.4 L225.8 404.7 L221.2 404.1 L216.4 403.5 L211.5 402.9 L206.4 402.4 L201.1 401.9 L195.7 401.5 L190.0 401.1 L184.1 400.8 L178.0 400.5 L171.7 400.2Z"/>
<path d="M88.2 343.7 L95.9 343.9 L103.3 344.1 L110.4 344.3 L117.1 344.6 L123.5 344.9 L129.7 345.2 L135.7 345.6 L141.4 346.1 L146.9 346.6 L152.2 347.1 L157.4 347.7 L162.4 348.4 L167.2 349.0 L171.9 349.8 L176.4 350.6 L180.8 351.4 L185.1 352.3 L189.2 353.2 L193.3 354.2 L197.2 355.3 L201.1 356.4 L204.8 357.5 L208.5 358.8 L212.1 360.0 L215.6 361.4 L219.0 362.8 L222.3 364.3 L225.6 365.8 L228.8 367.4 L231.9 369.1 L235.0 370.9 L238.0 372.7 L241.0 374.7 L243.9 376.7 L246.7 378.8 L249.5 381.0 L221.1 456.0 L218.3 453.8 L215.5 451.7 L212.6 449.7 L209.6 447.7 L206.6 445.9 L203.5 444.1 L200.3 442.4 L197.1 440.8 L193.8 439.3 L190.5 437.8 L187.1 436.4 L183.5 435.0 L180.0 433.8 L176.3 432.5 L172.5 431.4 L168.7 430.3 L164.7 429.2 L160.6 428.2 L156.4 427.3 L152.2 426.4 L147.7 425.6 L143.2 424.8 L138.5 424.0 L133.7 423.4 L128.7 422.7 L123.5 422.1 L118.2 421.6 L112.6 421.1 L106.9 420.6 L100.9 420.2 L94.7 419.9 L88.3 419.6 L83.2 419.3 L83.2 419.1 L83.2 418.9 L83.2 418.7Z"/>
<path d="M83.2 398.3 L88.2 398.3 L95.8 399.7 L103.0 401.2 L109.9 402.6 L116.5 404.0 L122.8 405.3 L128.9 406.7 L134.8 408.0 L140.4 409.3 L145.8 410.6 L151.1 411.8 L156.2 413.1 L161.1 414.4 L165.8 415.6 L170.4 416.9 L174.9 418.2 L179.3 419.5 L183.5 420.8 L187.6 422.2 L191.6 423.5 L195.5 424.9 L199.3 426.4 L203.0 427.9 L206.7 429.4 L210.2 431.0 L213.7 432.6 L217.0 434.4 L220.4 436.2 L223.6 438.0 L226.8 440.0 L229.9 442.1 L232.9 444.3 L235.9 446.6 L238.8 449.0 L241.7 451.6 L244.5 454.3 L247.3 457.3 L228.0 507.5 L228.0 507.5 L225.2 504.3 L222.3 501.4 L219.5 498.6 L216.5 496.0 L213.5 493.5 L210.5 491.2 L207.4 488.9 L204.2 486.8 L200.9 484.8 L197.6 482.8 L194.2 481.0 L190.8 479.2 L187.2 477.5 L183.6 475.9 L179.8 474.3 L176.0 472.7 L172.1 471.3 L168.1 469.8 L164.0 468.4 L159.7 467.1 L155.4 465.7 L150.9 464.4 L146.2 463.1 L141.5 461.9 L136.5 460.6 L131.4 459.3 L126.2 458.1 L120.7 456.9 L115.0 455.6 L109.2 454.4 L103.1 453.1 L96.7 451.9 L90.0 450.6 L83.2 449.3 L83.2 448.0 L83.2 446.7Z"/>
</g>
<g class="g">
<line x1="88.15" y1="79.50" x2="88.15" y2="540.25"/>
<line x1="122.18" y1="79.50" x2="122.18" y2="540.25"/>
<line x1="149.98" y1="79.50" x2="149.98" y2="540.25"/>
<line x1="173.48" y1="79.50" x2="173.48" y2="540.25"/>
<line x1="193.84" y1="79.50" x2="193.84" y2="540.25"/>
<line x1="211.80" y1="79.50" x2="211.80" y2="540.25"/>
<line x1="227.87" y1="79.50" x2="227.87" y2="540.25"/>
<line x1="255.67" y1="79.50" x2="255.67" y2="540.25"/>
<line x1="279.17" y1="79.50" x2="279.17" y2="540.25"/>
<line x1="299.53" y1="79.50" x2="299.53" y2="540.25"/>
<line x1="317.49" y1="79.50" x2="317.49" y2="540.25"/>
<line x1="333.56" y1="79.50" x2="333.56" y2="540.25"/>
<line x1="395.38" y1="79.50" x2="395.38" y2="540.25"/>
<line x1="439.25" y1="79.50" x2="439.25" y2="540.25"/>
<line x1="473.28" y1="79.50" x2="473.28" y2="540.25"/>
<line x1="501.08" y1="79.50" x2="501.08" y2="540.25"/>
<line x1="524.58" y1="79.50" x2="524.58" y2="540.25"/>
<line x1="544.94" y1="79.50" x2="544.94" y2="540.25"/>
<line x1="562.90" y1="79.50" x2="562.90" y2="540.25"/>
<line x1="578.97" y1="79.50" x2="578.97" y2="540.25"/>
<line x1="606.77" y1="79.50" x2="606.77" y2="540.25"/>
<line x1="630.27" y1="79.50" x2="630.27" y2="540.25"/>
<line x1="650.63" y1="79.50" x2="650.63" y2="540.25"/>
<line x1="668.59" y1="79.50" x2="668.59" y2="540.25"/>
<line x1="684.66" y1="79.50" x2="684.66" y2="540.25"/>
<line x1="746.48" y1="79.50" x2="746.48" y2="540.25"/>
<line x1="790.35" y1="79.50" x2="790.35" y2="540.25"/>
<line x1="824.38" y1="79.50" x2="824.38" y2="540.25"/>
<line x1="852.18" y1="79.50" x2="852.18" y2="540.25"/>
<line x1="875.68" y1="79.50" x2="875.68" y2="540.25"/>
<line x1="896.04" y1="79.50" x2="896.04" y2="540.25"/>
<line x1="914.00" y1="79.50" x2="914.00" y2="540.25"/>
<line x1="930.07" y1="79.50" x2="930.07" y2="540.25"/>
<line x1="944.60" y1="79.50" x2="944.60" y2="540.25"/>
<line x1="957.87" y1="79.50" x2="957.87" y2="540.25"/>
<line x1="970.07" y1="79.50" x2="970.07" y2="540.25"/>
<line x1="981.37" y1="79.50" x2="981.37" y2="540.25"/>
<line x1="88.15" y1="540.25" x2="981.37" y2="540.25"/>
<line x1="88.15" y1="511.33" x2="981.37" y2="511.33"/>
<line x1="88.15" y1="487.70" x2="981.37" y2="487.70"/>
<line x1="88.15" y1="467.73" x2="981.37" y2="467.73"/>
<line x1="88.15" y1="450.42" x2="981.37" y2="450.42"/>
<line x1="88.15" y1="435.16" x2="981.37" y2="435.16"/>
<line x1="88.15" y1="421.50" x2="981.37" y2="421.50"/>
<line x1="88.15" y1="397.88" x2="981.37" y2="397.88"/>
<line x1="88.15" y1="377.90" x2="981.37" y2="377.90"/>
<line x1="88.15" y1="360.60" x2="981.37" y2="360.60"/>
<line x1="88.15" y1="345.33" x2="981.37" y2="345.33"/>
<line x1="88.15" y1="331.68" x2="981.37" y2="331.68"/>
<line x1="88.15" y1="279.13" x2="981.37" y2="279.13"/>
<line x1="88.15" y1="241.85" x2="981.37" y2="241.85"/>
<line x1="88.15" y1="212.93" x2="981.37" y2="212.93"/>
<line x1="88.15" y1="189.30" x2="981.37" y2="189.30"/>
<line x1="88.15" y1="169.33" x2="981.37" y2="169.33"/>
<line x1="88.15" y1="152.02" x2="981.37" y2="152.02"/>
<line x1="88.15" y1="136.76" x2="981.37" y2="136.76"/>
<line x1="88.15" y1="123.10" x2="981.37" y2="123.10"/>
<line x1="88.15" y1="110.75" x2="981.37" y2="110.75"/>
<line x1="88.15" y1="99.48" x2="981.37" y2="99.48"/>
<line x1="88.15" y1="89.10" x2="981.37" y2="89.10"/>
<line x1="88.15" y1="79.50" x2="981.37" y2="79.50"/>
</g>
<g class="t">
<line x1="91.47" y1="73.50" x2="91.47" y2="79.50"/>
<line x1="107.54" y1="73.50" x2="107.54" y2="79.50"/>
<line x1="169.37" y1="73.50" x2="169.37" y2="79.50"/>
<line x1="213.23" y1="73.50" x2="213.23" y2="79.50"/>
<line x1="247.26" y1="73.50" x2="247.26" y2="79.50"/>
<line x1="275.06" y1="73.50" x2="275.06" y2="79.50"/>
<line x1="298.56" y1="73.50" x2="298.56" y2="79.50"/>
<line x1="318.92" y1="73.50" x2="318.92" y2="79.50"/>
<line x1="336.88" y1="73.50" x2="336.88" y2="79.50"/>
<line x1="352.95" y1="73.50" x2="352.95" y2="79.50"/>
<line x1="380.75" y1="73.50" x2="380.75" y2="79.50"/>
<line x1="404.25" y1="73.50" x2="404.25" y2="79.50"/>
<line x1="424.61" y1="73.50" x2="424.61" y2="79.50"/>
<line x1="442.57" y1="73.50" x2="442.57" y2="79.50"/>
<line x1="458.64" y1="73.50" x2="458.64" y2="79.50"/>
<line x1="520.47" y1="73.50" x2="520.47" y2="79.50"/>
<line x1="564.33" y1="73.50" x2="564.33" y2="79.50"/>
<line x1="598.36" y1="73.50" x2="598.36" y2="79.50"/>
<line x1="626.16" y1="73.50" x2="626.16" y2="79.50"/>
<line x1="649.66" y1="73.50" x2="649.66" y2="79.50"/>
<line x1="670.02" y1="73.50" x2="670.02" y2="79.50"/>
<line x1="687.98" y1="73.50" x2="687.98" y2="79.50"/>
<line x1="704.05" y1="73.50" x2="704.05" y2="79.50"/>
<line x1="731.85" y1="73.50" x2="731.85" y2="79.50"/>
<line x1="755.35" y1="73.50" x2="755.35" y2="79.50"/>
<line x1="775.71" y1="73.50" x2="775.71" y2="79.50"/>
<line x1="793.67" y1="73.50" x2="793.67" y2="79.50"/>
<line x1="809.74" y1="73.50" x2="809.74" y2="79.50"/>
<line x1="871.57" y1="73.50" x2="871.57" y2="79.50"/>
<line x1="915.43" y1="73.50" x2="915.43" y2="79.50"/>
<line x1="949.46" y1="73.50" x2="949.46" y2="79.50"/>
<line x1="977.26" y1="73.50" x2="977.26" y2="79.50"/>
<line x1="981.37" y1="97.42" x2="987.37" y2="97.42"/>
<line x1="981.37" y1="134.70" x2="985.87" y2="134.70"/>
<line x1="981.37" y1="187.25" x2="987.37" y2="187.25"/>
<line x1="981.37" y1="200.90" x2="985.87" y2="200.90"/>
<line x1="981.37" y1="216.17" x2="985.87" y2="216.17"/>
<line x1="981.37" y1="233.47" x2="985.87" y2="233.47"/>
<line x1="981.37" y1="253.45" x2="985.87" y2="253.45"/>
<line x1="981.37" y1="277.07" x2="987.37" y2="277.07"/>
<line x1="981.37" y1="290.73" x2="985.87" y2="290.73"/>
<line x1="981.37" y1="305.99" x2="987.37" y2="305.99"/>
<line x1="981.37" y1="323.30" x2="985.87" y2="323.30"/>
<line x1="981.37" y1="343.27" x2="987.37" y2="343.27"/>
<line x1="981.37" y1="366.90" x2="985.87" y2="366.90"/>
<line x1="981.37" y1="395.82" x2="987.37" y2="395.82"/>
<line x1="981.37" y1="433.10" x2="985.87" y2="433.10"/>
<line x1="981.37" y1="485.65" x2="987.37" y2="485.65"/>
<line x1="981.37" y1="499.30" x2="985.87" y2="499.30"/>
<line x1="981.37" y1="514.57" x2="985.87" y2="514.57"/>
<line x1="981.37" y1="531.87" x2="987.37" y2="531.87"/>
<line x1="88.15" y1="585.90" x2="981.37" y2="585.90" style="stroke-width:1.7;stroke:#4a4a4a"/>
<line x1="115.95" y1="579.50" x2="115.95" y2="585.90" style="stroke-width:1.3;stroke:#444"/>
<line x1="149.98" y1="579.50" x2="149.98" y2="585.90" style="stroke-width:1.3;stroke:#444"/>
<line x1="177.78" y1="579.50" x2="177.78" y2="585.90" style="stroke-width:1.3;stroke:#444"/>
<line x1="201.28" y1="579.50" x2="201.28" y2="585.90" style="stroke-width:1.3;stroke:#444"/>
<line x1="221.64" y1="579.50" x2="221.64" y2="585.90" style="stroke-width:1.3;stroke:#444"/>
<line x1="239.60" y1="579.50" x2="239.60" y2="585.90" style="stroke-width:1.3;stroke:#444"/>
<line x1="255.67" y1="579.50" x2="255.67" y2="585.90" style="stroke-width:1.3;stroke:#444"/>
<line x1="317.49" y1="579.50" x2="317.49" y2="585.90" style="stroke-width:1.3;stroke:#444"/>
<line x1="361.36" y1="579.50" x2="361.36" y2="585.90" style="stroke-width:1.3;stroke:#444"/>
<line x1="423.18" y1="579.50" x2="423.18" y2="585.90" style="stroke-width:1.3;stroke:#444"/>
<line x1="467.05" y1="579.50" x2="467.05" y2="585.90" style="stroke-width:1.3;stroke:#444"/>
<line x1="501.08" y1="579.50" x2="501.08" y2="585.90" style="stroke-width:1.3;stroke:#444"/>
<line x1="528.88" y1="579.50" x2="528.88" y2="585.90" style="stroke-width:1.3;stroke:#444"/>
<line x1="552.38" y1="579.50" x2="552.38" y2="585.90" style="stroke-width:1.3;stroke:#444"/>
<line x1="572.74" y1="579.50" x2="572.74" y2="585.90" style="stroke-width:1.3;stroke:#444"/>
<line x1="590.70" y1="579.50" x2="590.70" y2="585.90" style="stroke-width:1.3;stroke:#444"/>
<line x1="606.77" y1="579.50" x2="606.77" y2="585.90" style="stroke-width:1.3;stroke:#444"/>
<line x1="668.59" y1="579.50" x2="668.59" y2="585.90" style="stroke-width:1.3;stroke:#444"/>
<line x1="712.46" y1="579.50" x2="712.46" y2="585.90" style="stroke-width:1.3;stroke:#444"/>
<line x1="774.28" y1="579.50" x2="774.28" y2="585.90" style="stroke-width:1.3;stroke:#444"/>
<line x1="818.15" y1="579.50" x2="818.15" y2="585.90" style="stroke-width:1.3;stroke:#444"/>
<line x1="852.18" y1="579.50" x2="852.18" y2="585.90" style="stroke-width:1.3;stroke:#444"/>
<line x1="879.98" y1="579.50" x2="879.98" y2="585.90" style="stroke-width:1.3;stroke:#444"/>
<line x1="903.48" y1="579.50" x2="903.48" y2="585.90" style="stroke-width:1.3;stroke:#444"/>
<line x1="923.84" y1="579.50" x2="923.84" y2="585.90" style="stroke-width:1.3;stroke:#444"/>
<line x1="941.80" y1="579.50" x2="941.80" y2="585.90" style="stroke-width:1.3;stroke:#444"/>
<line x1="957.87" y1="579.50" x2="957.87" y2="585.90" style="stroke-width:1.3;stroke:#444"/>
</g>
<g class="ax">
<text x="109.5" y="68.6" text-anchor="middle">10</text>
<text x="215.2" y="68.6" text-anchor="middle">20</text>
<text x="277.1" y="68.6" text-anchor="middle">30</text>
<text x="320.9" y="68.6" text-anchor="middle">40</text>
<text x="354.9" y="68.6" text-anchor="middle">50</text>
<text x="460.6" y="68.6" text-anchor="middle">100</text>
<text x="566.3" y="68.6" text-anchor="middle">200</text>
<text x="628.2" y="68.6" text-anchor="middle">300</text>
<text x="672.0" y="68.6" text-anchor="middle">400</text>
<text x="706.0" y="68.6" text-anchor="middle">500</text>
<text x="813.0" y="68.6" text-anchor="middle">1000</text>
<text x="918.7" y="68.6" text-anchor="middle">2000</text>
<text x="980.6" y="68.6" text-anchor="middle">3000</text>
<text x="129" y="68.3" textLength="71.5" lengthAdjust="spacing">U.S. g.p.m.</text>
<text x="84.4" y="84.3" text-anchor="end">70</text>
<text x="84.4" y="104.3" text-anchor="end">60</text>
<text x="84.4" y="127.9" text-anchor="end">50</text>
<text x="84.4" y="156.8" text-anchor="end">40</text>
<text x="84.4" y="194.1" text-anchor="end">30</text>
<text x="84.4" y="246.6" text-anchor="end">20</text>
<text x="84.4" y="336.5" text-anchor="end">10</text>
<text x="84.4" y="426.3" text-anchor="end">5</text>
<text x="84.4" y="455.2" text-anchor="end">4</text>
<text x="84.4" y="492.5" text-anchor="end">3</text>
<text x="84.4" y="545.0" text-anchor="end">2</text>
<text x="990.3" y="101.9">200</text>
<text x="990.3" y="191.7">100</text>
<text x="990.3" y="281.6">50</text>
<text x="990.3" y="310.5">40</text>
<text x="990.3" y="347.8">30</text>
<text x="990.3" y="400.3">20</text>
<text x="990.3" y="490.1">10</text>
<text x="990.3" y="536.4">7</text>
<text x="89.0" y="556.4" text-anchor="middle">2</text>
<text x="229.2" y="556.4" text-anchor="middle">5</text>
<text x="335.5" y="556.4" text-anchor="middle">10</text>
<text x="441.1" y="556.4" text-anchor="middle">20</text>
<text x="503.0" y="556.4" text-anchor="middle">30</text>
<text x="546.8" y="556.4" text-anchor="middle">40</text>
<text x="580.9" y="556.4" text-anchor="middle">50</text>
<text x="687.3" y="556.4" text-anchor="middle">100</text>
<text x="793.0" y="556.4" text-anchor="middle">200</text>
<text x="854.8" y="556.4" text-anchor="middle">300</text>
<text x="898.6" y="556.4" text-anchor="middle">400</text>
<text x="932.7" y="556.4" text-anchor="middle">500</text>
<text x="984.0" y="556.4" text-anchor="middle">700</text>
<text x="118.7" y="575.2" text-anchor="middle">40</text>
<text x="152.7" y="575.2" text-anchor="middle">50</text>
<text x="258.4" y="575.2" text-anchor="middle">100</text>
<text x="320.2" y="575.2" text-anchor="middle">150</text>
<text x="364.1" y="575.2" text-anchor="middle">200</text>
<text x="425.9" y="575.2" text-anchor="middle">300</text>
<text x="469.8" y="575.2" text-anchor="middle">400</text>
<text x="503.8" y="575.2" text-anchor="middle">500</text>
<text x="608.5" y="575.2" text-anchor="middle">1000</text>
<text x="852.6" y="575.2" text-anchor="middle">5000</text>
<text x="956.6" y="575.2" text-anchor="middle">10000</text>
<text x="189.5" y="558.2">m<tspan style="font-size:8px" dy="-4.5">3</tspan><tspan dy="4.5">/h</tspan></text>
<text x="189.5" y="572.6">l/min</text>
<text x="995.5" y="160.5">ft</text>
<text x="67.3" y="299">m</text>
</g>
<text x="170.2" y="566.4" textLength="14.8" lengthAdjust="spacingAndGlyphs" style="font-size:16.8px;font-weight:bold">Q</text>
<text x="994.8" y="140.8" textLength="14.6" lengthAdjust="spacingAndGlyphs" style="font-size:17px;font-weight:bold">H</text>
<text x="66" y="281" textLength="14.6" lengthAdjust="spacingAndGlyphs" style="font-size:17px;font-weight:bold">H</text>
<text x="946.6" y="597" textLength="33.6" lengthAdjust="spacingAndGlyphs" style="font-size:7.7px">72.849.C</text>
<text x="621.7" y="614.4" text-anchor="middle" style="font-size:17.8px">41</text>
<g class="m">
<rect x="580.2" y="125.5" width="90.5" height="17.6"/>
<rect x="720.1" y="130.0" width="56.8" height="32.0"/>
<rect x="793.6" y="130.5" width="56.8" height="32.0"/>
<rect x="856.6" y="147.3" width="56.8" height="32.0"/>
<rect x="525.0" y="192.0" width="74.0" height="17.6"/>
<rect x="634.4" y="188.8" width="49.3" height="32.0"/>
<rect x="707.9" y="209.7" width="56.8" height="32.0"/>
<rect x="791.6" y="202.0" width="56.8" height="32.0"/>
<rect x="855.6" y="242.6" width="56.8" height="32.0"/>
<rect x="335.0" y="248.0" width="74.0" height="17.6"/>
<rect x="448.0" y="259.0" width="74.0" height="17.6"/>
<rect x="537.0" y="259.5" width="74.0" height="17.6"/>
<rect x="630.1" y="251.5" width="41.8" height="32.0"/>
<rect x="699.6" y="259.5" width="56.8" height="32.0"/>
<rect x="793.6" y="299.5" width="56.8" height="32.0"/>
<rect x="126.2" y="308.0" width="81.5" height="17.6"/>
<rect x="263.0" y="322.0" width="74.0" height="17.6"/>
<rect x="335.0" y="305.0" width="74.0" height="17.6"/>
<rect x="442.0" y="322.0" width="74.0" height="17.6"/>
<rect x="551.1" y="309.5" width="41.8" height="32.0"/>
<rect x="619.1" y="321.0" width="41.8" height="32.0"/>
<rect x="702.4" y="332.0" width="49.3" height="32.0"/>
<rect x="126.2" y="379.0" width="81.5" height="17.6"/>
<rect x="254.0" y="379.0" width="74.0" height="17.6"/>
<rect x="335.0" y="379.0" width="74.0" height="17.6"/>
<rect x="438.0" y="379.0" width="74.0" height="17.6"/>
<rect x="549.1" y="362.0" width="41.8" height="32.0"/>
<rect x="608.1" y="384.0" width="41.8" height="32.0"/>
<rect x="125.5" y="436.4" width="74.0" height="13.5"/>
</g>
<g class="r" clip-path="url(#c)">
<path d="M727.0 102.1 L737.8 102.0 L747.8 102.1 L757.3 102.2 L766.2 102.5 L774.6 102.9 L782.5 103.4 L790.1 103.9 L797.3 104.6 L804.2 105.4 L810.8 106.3 L817.1 107.2 L823.1 108.3 L829.0 109.4 L834.6 110.7 L840.0 112.0 L845.2 113.5 L850.3 115.0 L855.2 116.6 L859.9 118.3 L864.5 120.0 L869.0 121.9 L873.3 123.9 L877.5 125.9 L881.6 128.0 L885.6 130.3 L889.5 132.6 L893.3 135.0 L897.0 137.5 L900.6 140.0 L904.2 142.7 L907.6 145.4 L911.0 148.3 L914.3 151.2 L917.5 154.2 L920.7 157.4 L923.8 160.6 L903.9 212.5"/>
<path d="M658.0 101.3 L669.4 101.2 L680.0 101.2 L689.9 101.3 L699.3 101.4 L708.0 101.6 L716.3 101.8 L724.2 102.1 L731.7 102.4 L738.8 102.8 L745.6 103.3 L752.2 103.8 L758.4 104.4 L764.4 105.0 L770.2 105.7 L775.8 106.4 L781.2 107.3 L786.3 108.1 L791.4 109.1 L796.2 110.1 L800.9 111.2 L805.5 112.4 L809.9 113.6 L814.2 114.9 L818.4 116.3 L822.5 117.7 L826.5 119.3 L830.4 120.9 L834.1 122.6 L837.8 124.4 L841.4 126.3 L844.9 128.3 L848.4 130.4 L851.7 132.6 L855.0 134.9 L858.2 137.3 L861.4 139.8 L839.6 198.7"/>
<path d="M711.1 110.8 L714.1 111.2 L717.0 111.6 L719.9 112.0 L722.7 112.5 L725.5 112.9 L728.2 113.4 L730.9 113.9 L733.5 114.5 L736.1 115.0 L738.6 115.5 L741.1 116.1 L743.6 116.7 L746.0 117.3 L748.4 117.9 L750.7 118.6 L753.0 119.2 L755.3 119.9 L757.5 120.6 L759.8 121.3 L761.9 122.0 L764.1 122.8 L766.2 123.6 L768.3 124.3 L770.3 125.2 L772.4 126.0 L774.4 126.8 L776.4 127.7 L778.3 128.6 L780.2 129.5 L782.1 130.5 L784.0 131.5 L785.9 132.4 L787.7 133.5 L789.5 134.5 L791.3 135.6 L793.1 136.7 L770.3 197.6"/>
<path d="M474.9 165.7 L501.8 96.2 L513.8 96.2 L524.9 96.2 L535.3 96.2 L545.0 96.2 L554.1 96.3 L562.7 96.4 L570.9 96.5 L578.6 96.6 L585.9 96.8 L593.0 97.0 L599.7 97.2 L606.1 97.4 L612.3 97.6 L618.2 97.9 L623.9 98.2 L629.4 98.6 L634.7 98.9 L639.9 99.3 L644.8 99.7 L649.6 100.1 L654.3 100.6 L658.8 101.1 L663.2 101.6 L667.5 102.1 L671.6 102.7 L675.7 103.3 L679.6 103.9 L683.4 104.5 L687.2 105.2 L690.8 105.9 L694.4 106.6 L697.9 107.4 L701.3 108.2 L704.6 109.0 L707.9 109.9 L711.1 110.8 L688.4 169.2"/>
<path d="M847.6 177.2 L850.3 178.2 L853.0 179.3 L855.6 180.4 L858.2 181.5 L860.8 182.6 L863.3 183.7 L865.7 184.9 L868.2 186.0 L870.6 187.2 L872.9 188.4 L875.2 189.6 L877.5 190.9 L879.8 192.2 L882.0 193.5 L884.2 194.9 L886.3 196.4 L888.4 197.9 L890.5 199.5 L892.6 201.1 L894.6 202.9 L896.6 204.7 L898.6 206.7 L900.6 208.7 L902.5 210.8 L904.4 213.1 L906.3 215.5 L908.2 218.1 L910.0 220.8 L911.8 223.7 L913.6 226.8 L915.4 230.1 L917.2 233.6 L918.9 237.3 L920.6 241.3 L922.3 245.7 L924.0 250.3 L887.8 346.4 L887.1 345.4 L886.3 344.4 L885.6 343.4 L884.8 342.5 L884.1 341.5 L883.3 340.6 L882.5 339.6 L881.8 338.7 L881.0 337.8 L880.2 336.9 L879.4 336.0 L878.6 335.1 L877.9 334.2 L877.1 333.3 L876.3 332.5 L875.5 331.6 L874.7 330.7 L873.9 329.9 L873.0 329.1 L872.2 328.2 L871.4 327.4 L870.6 326.6 L869.7 325.8 L868.9 325.0 L868.1 324.2 L867.2 323.4 L866.4 322.6 L865.5 321.8 L864.7 321.0 L863.8 320.3 L862.9 319.5 L862.0 318.7 L861.2 318.0 L860.3 317.3 L859.4 316.5 L858.5 315.8"/>
<path d="M780.1 171.3 L783.1 172.0 L786.0 172.7 L788.9 173.4 L791.7 174.2 L794.5 175.0 L797.2 175.8 L799.9 176.7 L802.5 177.6 L805.1 178.5 L807.6 179.5 L810.1 180.6 L812.6 181.7 L815.0 182.8 L817.3 184.0 L819.7 185.2 L822.0 186.4 L824.3 187.7 L826.5 189.1 L828.7 190.5 L830.9 192.0 L833.0 193.5 L835.1 195.1 L837.2 196.8 L839.3 198.5 L841.3 200.2 L843.3 202.0 L845.3 203.9 L847.2 205.9 L849.2 208.0 L851.1 210.1 L852.9 212.3 L854.8 214.5 L856.6 216.9 L858.4 219.4 L860.2 221.9 L862.0 224.6 L839.7 282.1"/>
<path d="M688.6 168.6 L692.4 169.0 L696.2 169.5 L699.8 170.0 L703.4 170.6 L706.9 171.2 L710.3 171.8 L713.6 172.5 L716.9 173.2 L720.1 174.0 L723.2 174.8 L726.3 175.6 L729.3 176.5 L732.3 177.5 L735.1 178.4 L738.0 179.5 L740.8 180.6 L743.5 181.7 L746.2 182.9 L748.8 184.1 L751.4 185.4 L754.0 186.8 L756.5 188.2 L759.0 189.6 L761.4 191.2 L763.8 192.8 L766.1 194.4 L768.5 196.1 L770.8 197.9 L773.0 199.8 L775.2 201.7 L777.4 203.8 L779.6 205.9 L781.7 208.1 L783.8 210.3 L785.9 212.7 L787.9 215.2 L764.4 278.8"/>
<path d="M497.5 166.5 L502.2 154.9 L513.9 154.7 L524.7 154.6 L534.8 154.6 L544.3 154.6 L553.2 154.6 L561.7 154.7 L569.6 154.8 L577.2 154.9 L584.5 155.1 L591.4 155.3 L598.0 155.6 L604.3 155.9 L610.4 156.3 L616.3 156.7 L621.9 157.1 L627.3 157.6 L632.6 158.1 L637.6 158.7 L642.5 159.3 L647.3 159.9 L651.9 160.6 L656.4 161.4 L660.7 162.2 L664.9 163.0 L669.1 163.9 L673.1 164.8 L677.0 165.8 L680.8 166.9 L684.5 167.9 L688.1 169.1 L691.6 170.3 L695.1 171.6 L698.5 172.9 L701.8 174.3 L705.0 175.7 L708.2 177.2 L680.7 251.6"/>
<path d="M422.2 231.2 L447.1 165.2 L456.8 165.4 L465.8 165.5 L474.4 165.7 L482.5 166.0 L490.2 166.2 L497.6 166.5 L504.6 166.9 L511.2 167.2 L517.7 167.6 L523.8 168.1 L529.7 168.6 L535.4 169.1 L540.9 169.6 L546.2 170.2 L551.3 170.9 L556.3 171.5 L561.1 172.2 L565.7 173.0 L570.2 173.8 L574.6 174.6 L578.9 175.5 L583.0 176.4 L587.0 177.4 L591.0 178.4 L594.8 179.4 L598.5 180.5 L602.2 181.7 L605.7 182.9 L609.2 184.1 L612.6 185.4 L616.0 186.8 L619.2 188.2 L622.4 189.7 L625.5 191.2 L628.6 192.8 L631.6 194.4 L608.9 254.4"/>
<path d="M779.3 238.6 L782.3 239.7 L785.2 240.9 L788.1 242.1 L791.0 243.3 L793.8 244.6 L796.5 246.0 L799.2 247.4 L801.9 248.8 L804.5 250.3 L807.0 251.9 L809.6 253.5 L812.0 255.2 L814.5 256.9 L816.9 258.7 L819.2 260.6 L821.6 262.5 L823.9 264.6 L826.1 266.7 L828.3 268.8 L830.5 271.1 L832.7 273.5 L834.8 275.9 L836.9 278.5 L839.0 281.2 L841.0 284.0 L843.1 286.9 L845.1 289.9 L847.0 293.1 L849.0 296.4 L850.9 299.9 L852.8 303.6 L854.6 307.5 L856.5 311.5 L858.3 315.8 L860.1 320.3 L861.9 325.1 L818.9 440.1 L817.8 435.9 L816.6 432.0 L815.5 428.2 L814.3 424.7 L813.1 421.3 L811.9 418.2 L810.7 415.1 L809.5 412.2 L808.3 409.5 L807.1 406.8 L805.8 404.3 L804.6 401.9 L803.3 399.5 L802.0 397.3 L800.8 395.2 L799.5 393.1 L798.2 391.1 L796.9 389.1 L795.5 387.3 L794.2 385.5 L792.8 383.7 L791.5 382.0 L790.1 380.3 L788.7 378.7 L787.3 377.1 L785.9 375.6 L784.5 374.1 L783.0 372.6 L781.6 371.1 L780.1 369.7 L778.6 368.3 L777.1 366.9 L775.6 365.5 L774.1 364.2 L772.6 362.9 L771.0 361.5"/>
<path d="M686.4 236.2 L690.2 236.9 L693.9 237.7 L697.6 238.6 L701.2 239.5 L704.6 240.5 L708.1 241.5 L711.4 242.7 L714.6 243.8 L717.8 245.0 L721.0 246.3 L724.0 247.7 L727.0 249.1 L730.0 250.6 L732.9 252.2 L735.7 253.9 L738.5 255.6 L741.2 257.4 L743.9 259.3 L746.6 261.3 L749.2 263.4 L751.7 265.6 L754.2 267.9 L756.7 270.3 L759.1 272.8 L761.5 275.4 L763.9 278.1 L766.2 281.0 L768.5 284.0 L770.7 287.2 L772.9 290.5 L775.1 293.9 L777.3 297.6 L779.4 301.4 L781.5 305.5 L783.6 309.7 L785.6 314.2 L770.0 357.3"/>
<path d="M619.0 227.8 L621.6 228.3 L624.1 228.9 L626.6 229.4 L629.1 230.0 L631.5 230.6 L633.9 231.2 L636.2 231.9 L638.5 232.5 L640.8 233.2 L643.1 233.9 L645.3 234.6 L647.5 235.4 L649.6 236.1 L651.7 236.9 L653.8 237.7 L655.9 238.5 L657.9 239.4 L659.9 240.3 L661.9 241.1 L663.9 242.1 L665.8 243.0 L667.7 244.0 L669.6 245.0 L671.5 246.0 L673.3 247.0 L675.1 248.1 L676.9 249.2 L678.7 250.3 L680.5 251.4 L682.2 252.6 L683.9 253.8 L685.6 255.1 L687.3 256.3 L688.9 257.6 L690.6 259.0 L692.2 260.3 L666.7 325.6"/>
<path d="M430.0 229.7 L440.2 229.8 L449.7 230.1 L458.7 230.3 L467.2 230.6 L475.2 230.9 L482.9 231.3 L490.1 231.7 L497.1 232.1 L503.7 232.6 L510.1 233.1 L516.2 233.6 L522.0 234.2 L527.7 234.8 L533.1 235.4 L538.4 236.1 L543.5 236.8 L548.4 237.5 L553.2 238.3 L557.8 239.1 L562.3 240.0 L566.6 240.9 L570.9 241.9 L575.0 242.9 L579.0 243.9 L582.9 245.0 L586.7 246.1 L590.5 247.3 L594.1 248.5 L597.6 249.8 L601.1 251.1 L604.5 252.5 L607.8 253.9 L611.1 255.4 L614.2 256.9 L617.3 258.5 L620.4 260.2 L600.7 314.1"/>
<path d="M350.3 227.6 L360.4 227.8 L370.0 228.1 L378.9 228.4 L387.4 228.7 L395.4 229.1 L403.0 229.6 L410.2 230.2 L417.2 230.8 L423.8 231.4 L430.1 232.1 L436.2 232.9 L442.1 233.8 L447.7 234.7 L453.2 235.7 L458.4 236.7 L463.5 237.8 L468.4 239.0 L473.2 240.3 L477.8 241.7 L482.3 243.1 L486.6 244.6 L490.8 246.2 L495.0 247.8 L499.0 249.6 L502.9 251.5 L506.7 253.4 L510.4 255.5 L514.0 257.6 L517.6 259.9 L521.0 262.3 L524.4 264.8 L527.7 267.4 L531.0 270.2 L534.1 273.1 L537.3 276.1 L540.3 279.3 L525.2 318.2"/>
<path d="M213.4 292.2 L240.1 223.5 L251.9 223.7 L262.9 223.8 L273.1 224.0 L282.6 224.2 L291.7 224.5 L300.2 224.8 L308.2 225.2 L315.9 225.6 L323.2 226.0 L330.1 226.5 L336.8 227.0 L343.1 227.5 L349.3 228.1 L355.1 228.8 L360.8 229.4 L366.3 230.2 L371.5 230.9 L376.6 231.7 L381.6 232.6 L386.3 233.5 L391.0 234.4 L395.5 235.4 L399.8 236.5 L404.1 237.6 L408.2 238.7 L412.2 239.9 L416.1 241.2 L420.0 242.5 L423.7 243.9 L427.3 245.3 L430.9 246.8 L434.4 248.4 L437.7 250.0 L441.1 251.7 L444.3 253.5 L447.5 255.3 L425.7 311.6"/>
<path d="M682.0 286.5 L685.8 287.4 L689.5 288.3 L693.2 289.3 L696.8 290.3 L700.3 291.4 L703.7 292.6 L707.0 293.9 L710.3 295.3 L713.4 296.7 L716.6 298.3 L719.6 299.9 L722.6 301.6 L725.6 303.4 L728.5 305.3 L731.3 307.3 L734.1 309.4 L736.8 311.7 L739.5 314.0 L742.2 316.5 L744.8 319.1 L747.3 321.8 L749.8 324.7 L752.3 327.7 L754.7 330.9 L757.1 334.2 L759.5 337.8 L761.8 341.5 L764.1 345.5 L766.3 349.6 L768.5 354.0 L770.7 358.7 L772.9 363.7 L775.0 369.0 L777.1 374.6 L779.2 380.7 L781.2 387.1 L751.8 466.0 L750.0 459.5 L748.3 453.4 L746.5 447.7 L744.7 442.4 L742.9 437.3 L741.0 432.6 L739.1 428.1 L737.2 423.9 L735.3 419.9 L733.4 416.0 L731.4 412.4 L729.4 409.0 L727.4 405.7 L725.4 402.5 L723.3 399.5 L721.2 396.6 L719.1 393.9 L716.9 391.3 L714.7 388.8 L712.5 386.3 L710.2 384.0 L707.9 381.8 L705.6 379.7 L703.2 377.6 L700.8 375.7 L698.4 373.8 L695.9 372.0 L693.4 370.2 L690.8 368.5 L688.2 366.9 L685.6 365.4 L682.9 363.9 L680.2 362.4 L677.4 361.0 L674.5 359.7 L671.6 358.4"/>
<path d="M606.6 297.9 L609.2 298.6 L611.7 299.2 L614.2 299.9 L616.6 300.6 L619.0 301.4 L621.4 302.1 L623.7 302.9 L626.0 303.7 L628.3 304.5 L630.5 305.3 L632.7 306.2 L634.9 307.1 L637.0 308.0 L639.1 308.9 L641.2 309.9 L643.3 310.9 L645.3 311.9 L647.3 313.0 L649.3 314.0 L651.2 315.1 L653.1 316.3 L655.0 317.4 L656.9 318.6 L658.8 319.8 L660.6 321.1 L662.4 322.4 L664.2 323.7 L666.0 325.0 L667.7 326.4 L669.4 327.9 L671.1 329.3 L672.8 330.8 L674.5 332.4 L676.1 334.0 L677.8 335.6 L679.4 337.3 L666.2 373.0"/>
<path d="M535.9 290.7 L538.5 291.2 L541.2 291.8 L543.8 292.4 L546.3 293.0 L548.8 293.6 L551.3 294.2 L553.7 294.9 L556.1 295.5 L558.4 296.2 L560.7 296.9 L563.0 297.6 L565.2 298.3 L567.4 299.0 L569.6 299.8 L571.8 300.5 L573.9 301.3 L576.0 302.1 L578.0 302.9 L580.0 303.7 L582.1 304.6 L584.0 305.5 L586.0 306.3 L587.9 307.2 L589.8 308.2 L591.7 309.1 L593.6 310.1 L595.4 311.1 L597.2 312.1 L599.0 313.1 L600.8 314.1 L602.5 315.2 L604.3 316.3 L606.0 317.4 L607.7 318.6 L609.3 319.7 L611.0 320.9 L595.6 361.7"/>
<path d="M434.7 288.4 L438.6 288.7 L442.5 289.1 L446.2 289.6 L449.9 290.1 L453.4 290.6 L456.9 291.1 L460.3 291.7 L463.7 292.3 L466.9 292.9 L470.1 293.6 L473.3 294.4 L476.3 295.1 L479.3 295.9 L482.3 296.8 L485.2 297.7 L488.0 298.6 L490.8 299.5 L493.5 300.6 L496.2 301.6 L498.9 302.7 L501.5 303.9 L504.0 305.1 L506.5 306.3 L509.0 307.6 L511.4 309.0 L513.8 310.4 L516.2 311.8 L518.5 313.3 L520.8 314.9 L523.0 316.6 L525.3 318.2 L527.5 320.0 L529.6 321.8 L531.7 323.7 L533.8 325.7 L535.9 327.7 L515.8 380.1"/>
<path d="M236.5 290.7 L240.1 281.1 L250.8 281.6 L260.8 282.0 L270.2 282.4 L279.1 282.9 L287.4 283.3 L295.4 283.8 L302.9 284.3 L310.1 284.7 L316.9 285.3 L323.5 285.8 L329.8 286.4 L335.8 286.9 L341.7 287.6 L347.3 288.2 L352.7 288.9 L357.9 289.6 L362.9 290.4 L367.8 291.2 L372.5 292.1 L377.1 293.1 L381.6 294.0 L385.9 295.1 L390.1 296.2 L394.2 297.4 L398.2 298.7 L402.1 300.0 L405.9 301.5 L409.6 303.0 L413.2 304.7 L416.7 306.4 L420.1 308.2 L423.5 310.2 L426.8 312.3 L430.0 314.6 L433.2 317.0 L436.3 319.5 L417.0 369.8"/>
<path d="M194.0 288.1 L201.1 288.3 L207.9 288.6 L214.3 289.0 L220.6 289.4 L226.5 289.8 L232.3 290.3 L237.8 290.8 L243.2 291.4 L248.4 292.0 L253.4 292.7 L258.2 293.4 L262.9 294.1 L267.4 295.0 L271.9 295.8 L276.1 296.8 L280.3 297.7 L284.4 298.8 L288.4 299.9 L292.2 301.0 L296.0 302.2 L299.6 303.5 L303.2 304.8 L306.7 306.2 L310.2 307.7 L313.5 309.2 L316.8 310.8 L320.0 312.5 L323.1 314.3 L326.2 316.1 L329.2 318.0 L332.2 320.0 L335.1 322.1 L338.0 324.3 L340.8 326.6 L343.5 328.9 L346.2 331.4 L328.1 382.3"/>
<path d="M88.2 285.7 L97.6 285.7 L106.6 285.7 L115.0 285.7 L123.0 285.8 L130.6 285.9 L137.9 286.0 L144.8 286.2 L151.4 286.4 L157.7 286.7 L163.8 287.0 L169.7 287.4 L175.3 287.7 L180.7 288.2 L186.0 288.6 L191.1 289.2 L196.0 289.7 L200.7 290.3 L205.3 290.9 L209.8 291.6 L214.2 292.4 L218.4 293.1 L222.5 293.9 L226.5 294.8 L230.4 295.7 L234.2 296.7 L237.9 297.7 L241.6 298.8 L245.1 299.9 L248.6 301.0 L251.9 302.3 L255.2 303.5 L258.5 304.9 L261.7 306.3 L264.8 307.7 L267.8 309.3 L270.8 310.8 L255.7 352.5"/>
<path d="M601.7 345.5 L604.7 346.3 L607.7 347.1 L610.5 347.9 L613.4 348.7 L616.2 349.6 L618.9 350.5 L621.6 351.4 L624.2 352.3 L626.8 353.2 L629.4 354.2 L631.9 355.2 L634.3 356.2 L636.8 357.2 L639.1 358.2 L641.5 359.3 L643.8 360.3 L646.1 361.4 L648.3 362.5 L650.6 363.7 L652.7 364.8 L654.9 366.0 L657.0 367.3 L659.1 368.5 L661.2 369.8 L663.2 371.0 L665.2 372.4 L667.2 373.7 L669.2 375.1 L671.1 376.5 L673.0 377.9 L674.9 379.4 L676.8 380.9 L678.6 382.4 L680.4 383.9 L682.2 385.5 L684.0 387.2 L650.5 470.7 L649.2 468.4 L647.9 466.1 L646.5 464.0 L645.2 461.9 L643.8 459.8 L642.4 457.9 L641.0 455.9 L639.6 454.1 L638.2 452.3 L636.8 450.6 L635.3 448.9 L633.9 447.3 L632.4 445.7 L630.9 444.2 L629.4 442.8 L627.9 441.3 L626.4 440.0 L624.9 438.6 L623.3 437.3 L621.7 436.1 L620.1 434.9 L618.5 433.7 L616.9 432.6 L615.3 431.5 L613.6 430.5 L611.9 429.5 L610.2 428.5 L608.5 427.5 L606.8 426.6 L605.0 425.7 L603.2 424.9 L601.4 424.1 L599.6 423.3 L597.8 422.6 L595.9 421.8 L594.0 421.2"/>
<path d="M532.5 336.5 L535.4 336.9 L538.1 337.4 L540.9 337.9 L543.5 338.4 L546.2 339.0 L548.8 339.6 L551.3 340.3 L553.8 340.9 L556.3 341.6 L558.7 342.4 L561.1 343.2 L563.4 344.0 L565.7 344.8 L568.0 345.7 L570.2 346.6 L572.4 347.6 L574.6 348.6 L576.8 349.7 L578.9 350.8 L581.0 351.9 L583.0 353.1 L585.1 354.3 L587.1 355.6 L589.1 356.9 L591.0 358.3 L592.9 359.7 L594.8 361.1 L596.7 362.7 L598.6 364.3 L600.4 365.9 L602.2 367.6 L604.0 369.3 L605.8 371.2 L607.6 373.1 L609.3 375.0 L611.0 377.0 L589.8 432.0 L588.3 430.5 L586.7 429.1 L585.2 427.7 L583.6 426.3 L582.0 424.9 L580.3 423.6 L578.7 422.4 L577.0 421.1 L575.4 419.9 L573.7 418.8 L572.0 417.6 L570.2 416.5 L568.5 415.5 L566.7 414.4 L564.9 413.4 L563.1 412.4 L561.2 411.5 L559.4 410.5 L557.5 409.6 L555.6 408.8 L553.7 407.9 L551.7 407.1 L549.7 406.3 L547.7 405.5 L545.7 404.8 L543.6 404.0 L541.5 403.3 L539.4 402.6 L537.2 402.0 L535.1 401.3 L532.9 400.7 L530.6 400.1 L528.3 399.6 L526.0 399.0 L523.7 398.5 L521.3 398.0"/>
<path d="M425.9 346.5 L429.8 347.2 L433.5 347.8 L437.2 348.5 L440.8 349.2 L444.3 350.0 L447.7 350.7 L451.0 351.5 L454.3 352.3 L457.5 353.2 L460.6 354.0 L463.7 354.9 L466.7 355.8 L469.6 356.8 L472.5 357.8 L475.4 358.8 L478.1 359.8 L480.9 360.9 L483.6 361.9 L486.2 363.1 L488.8 364.2 L491.4 365.4 L493.9 366.6 L496.4 367.9 L498.8 369.2 L501.2 370.5 L503.5 371.9 L505.9 373.3 L508.1 374.7 L510.4 376.2 L512.6 377.8 L514.8 379.3 L517.0 380.9 L519.1 382.6 L521.2 384.3 L523.3 386.1 L525.3 387.9 L503.2 443.5 L501.4 442.3 L499.5 441.0 L497.7 439.8 L495.8 438.6 L493.9 437.3 L492.0 436.2 L490.0 435.0 L488.0 433.8 L486.0 432.7 L484.0 431.5 L481.9 430.4 L479.8 429.3 L477.7 428.2 L475.6 427.1 L473.4 426.0 L471.2 425.0 L468.9 423.9 L466.7 422.9 L464.3 421.8 L462.0 420.8 L459.6 419.8 L457.2 418.8 L454.7 417.8 L452.2 416.8 L449.7 415.9 L447.1 414.9 L444.5 414.0 L441.8 413.0 L439.1 412.1 L436.3 411.2 L433.5 410.3 L430.6 409.4 L427.7 408.5 L424.7 407.6 L421.6 406.7 L418.5 405.8"/>
<path d="M340.8 346.6 L344.1 347.0 L347.3 347.4 L350.5 347.8 L353.5 348.3 L356.5 348.8 L359.5 349.3 L362.4 349.9 L365.3 350.4 L368.0 351.0 L370.8 351.7 L373.5 352.3 L376.1 353.0 L378.7 353.7 L381.3 354.4 L383.8 355.1 L386.3 355.9 L388.7 356.7 L391.1 357.6 L393.5 358.4 L395.8 359.3 L398.1 360.2 L400.4 361.2 L402.6 362.2 L404.8 363.2 L407.0 364.2 L409.1 365.3 L411.2 366.4 L413.3 367.6 L415.3 368.8 L417.3 370.0 L419.3 371.3 L421.3 372.6 L423.2 373.9 L425.1 375.3 L427.0 376.7 L428.9 378.2 L402.9 447.5 L401.1 446.0 L399.4 444.6 L397.6 443.3 L395.8 441.9 L394.0 440.6 L392.1 439.4 L390.3 438.1 L388.4 436.9 L386.5 435.8 L384.6 434.6 L382.6 433.5 L380.6 432.4 L378.6 431.3 L376.6 430.3 L374.5 429.3 L372.4 428.3 L370.3 427.3 L368.2 426.4 L366.0 425.5 L363.8 424.6 L361.5 423.7 L359.3 422.9 L357.0 422.1 L354.6 421.3 L352.2 420.5 L349.8 419.8 L347.3 419.0 L344.8 418.3 L342.3 417.6 L339.7 416.9 L337.1 416.3 L334.4 415.6 L331.7 415.0 L328.9 414.4 L326.1 413.9 L323.2 413.3"/>
<path d="M191.3 353.7 L194.0 347.3 L200.2 347.4 L206.1 347.7 L211.9 347.9 L217.4 348.3 L222.7 348.6 L227.9 349.0 L232.8 349.5 L237.7 350.0 L242.3 350.5 L246.9 351.1 L251.3 351.7 L255.5 352.4 L259.7 353.2 L263.8 353.9 L267.7 354.8 L271.5 355.7 L275.3 356.6 L279.0 357.6 L282.5 358.7 L286.0 359.8 L289.4 360.9 L292.8 362.2 L296.1 363.5 L299.3 364.8 L302.4 366.2 L305.5 367.7 L308.5 369.3 L311.4 370.9 L314.3 372.6 L317.2 374.4 L320.0 376.2 L322.7 378.1 L325.4 380.2 L328.0 382.3 L330.6 384.5 L333.2 386.8 L313.4 439.3 L311.8 437.9 L310.1 436.6 L308.5 435.3 L306.8 434.0 L305.1 432.8 L303.3 431.6 L301.6 430.4 L299.8 429.2 L298.0 428.1 L296.2 427.0 L294.4 426.0 L292.5 424.9 L290.7 423.9 L288.8 422.9 L286.9 422.0 L284.9 421.0 L282.9 420.1 L280.9 419.2 L278.9 418.4 L276.9 417.5 L274.8 416.7 L272.7 415.9 L270.6 415.1 L268.4 414.4 L266.2 413.7 L264.0 413.0 L261.7 412.3 L259.4 411.6 L257.1 411.0 L254.7 410.3 L252.3 409.7 L249.8 409.1 L247.4 408.6 L244.8 408.0 L242.3 407.5 L239.7 407.0"/>
<path d="M88.2 343.7 L95.9 343.9 L103.3 344.1 L110.4 344.3 L117.1 344.6 L123.5 344.9 L129.7 345.2 L135.7 345.6 L141.4 346.1 L146.9 346.6 L152.2 347.1 L157.4 347.7 L162.4 348.4 L167.2 349.0 L171.9 349.8 L176.4 350.6 L180.8 351.4 L185.1 352.3 L189.2 353.2 L193.3 354.2 L197.2 355.3 L201.1 356.4 L204.8 357.5 L208.5 358.8 L212.1 360.0 L215.6 361.4 L219.0 362.8 L222.3 364.3 L225.6 365.8 L228.8 367.4 L231.9 369.1 L235.0 370.9 L238.0 372.7 L241.0 374.7 L243.9 376.7 L246.7 378.8 L249.5 381.0 L227.1 440.2"/>
<path d="M88.2 398.3 L95.8 399.7 L103.0 401.2 L109.9 402.6 L116.5 404.0 L122.8 405.3 L128.9 406.7 L134.8 408.0 L140.4 409.3 L145.8 410.6 L151.1 411.8 L156.2 413.1 L161.1 414.4 L165.8 415.6 L170.4 416.9 L174.9 418.2 L179.3 419.5 L183.5 420.8 L187.6 422.2 L191.6 423.5 L195.5 424.9 L199.3 426.4 L203.0 427.9 L206.7 429.4 L210.2 431.0 L213.7 432.6 L217.0 434.4 L220.4 436.2 L223.6 438.0 L226.8 440.0 L229.9 442.1 L232.9 444.3 L235.9 446.6 L238.8 449.0 L241.7 451.6 L244.5 454.3 L247.3 457.3 L228.0 507.5 L225.4 504.6 L222.8 501.8 L220.1 499.2 L217.4 496.8 L214.7 494.4 L211.9 492.2 L209.0 490.1 L206.1 488.1 L203.2 486.1 L200.1 484.3 L197.1 482.5 L193.9 480.8 L190.7 479.2 L187.4 477.6 L184.1 476.1 L180.6 474.6 L177.1 473.2 L173.5 471.8 L169.9 470.5 L166.1 469.1 L162.2 467.9 L158.3 466.6 L154.2 465.4 L150.0 464.2 L145.7 463.0 L141.3 461.8 L136.7 460.6 L132.1 459.5 L127.2 458.3 L122.2 457.2 L117.0 456.0 L111.7 454.9 L106.1 453.7 L100.4 452.6 L94.4 451.4 L88.2 450.2"/>
</g>
<g class="lb">
<text x="625.5" y="140.5">NMS4 80/400</text>
<text x="748.5" y="145.0">NMS4</text>
<text x="748.5" y="159.4">100/400</text>
<text x="822.0" y="145.5">NMS4</text>
<text x="822.0" y="159.9">125/400</text>
<text x="885.0" y="162.3">NMS4</text>
<text x="885.0" y="176.7">150/400</text>
<text x="562.0" y="207.0">NM4 65/31</text>
<text x="659.0" y="203.8">NM4</text>
<text x="659.0" y="218.2">80/315</text>
<text x="736.3" y="224.7">NM(S)4</text>
<text x="736.3" y="239.1">100/315</text>
<text x="820.0" y="217.0">NMS4</text>
<text x="820.0" y="231.4">125/315</text>
<text x="884.0" y="257.6">NMS4</text>
<text x="884.0" y="272.0">150/315</text>
<text x="372.0" y="263.0">NM4 40/25</text>
<text x="485.0" y="274.0">NM4 50/25</text>
<text x="574.0" y="274.5">NM4 65/25</text>
<text x="651.0" y="266.5">NM4</text>
<text x="651.0" y="280.9">80/25</text>
<text x="728.0" y="274.5">NM4</text>
<text x="728.0" y="288.9">100/250</text>
<text x="822.0" y="314.5">NM4</text>
<text x="822.0" y="328.9">125/250</text>
<text x="167.0" y="323.0">NM4 25/200</text>
<text x="300.0" y="337.0">NM4 32/20</text>
<text x="372.0" y="320.0">NM4 40/20</text>
<text x="479.0" y="337.0">NM4 50/20</text>
<text x="572.0" y="324.5">NM4</text>
<text x="572.0" y="338.9">65/20</text>
<text x="640.0" y="336.0">NM4</text>
<text x="640.0" y="350.4">80/20</text>
<text x="727.0" y="347.0">NM4</text>
<text x="727.0" y="361.4">100/20</text>
<text x="167.0" y="394.0">NM4 25/160</text>
<text x="291.0" y="394.0">NM4 32/16</text>
<text x="372.0" y="394.0">NM4 40/16</text>
<text x="475.0" y="394.0">NM4 50/16</text>
<text x="570.0" y="377.0">NM4</text>
<text x="570.0" y="391.4">65/16</text>
<text x="629.0" y="399.0">NM4</text>
<text x="629.0" y="413.4">80/16</text>
<text x="162.5" y="447.3">NM4 25/12</text>
</g>
<rect x="88.15" y="79.50" width="893.22" height="460.75" fill="none" stroke="#1d1d1b" stroke-width="1.1"/>
</svg></body></html>
